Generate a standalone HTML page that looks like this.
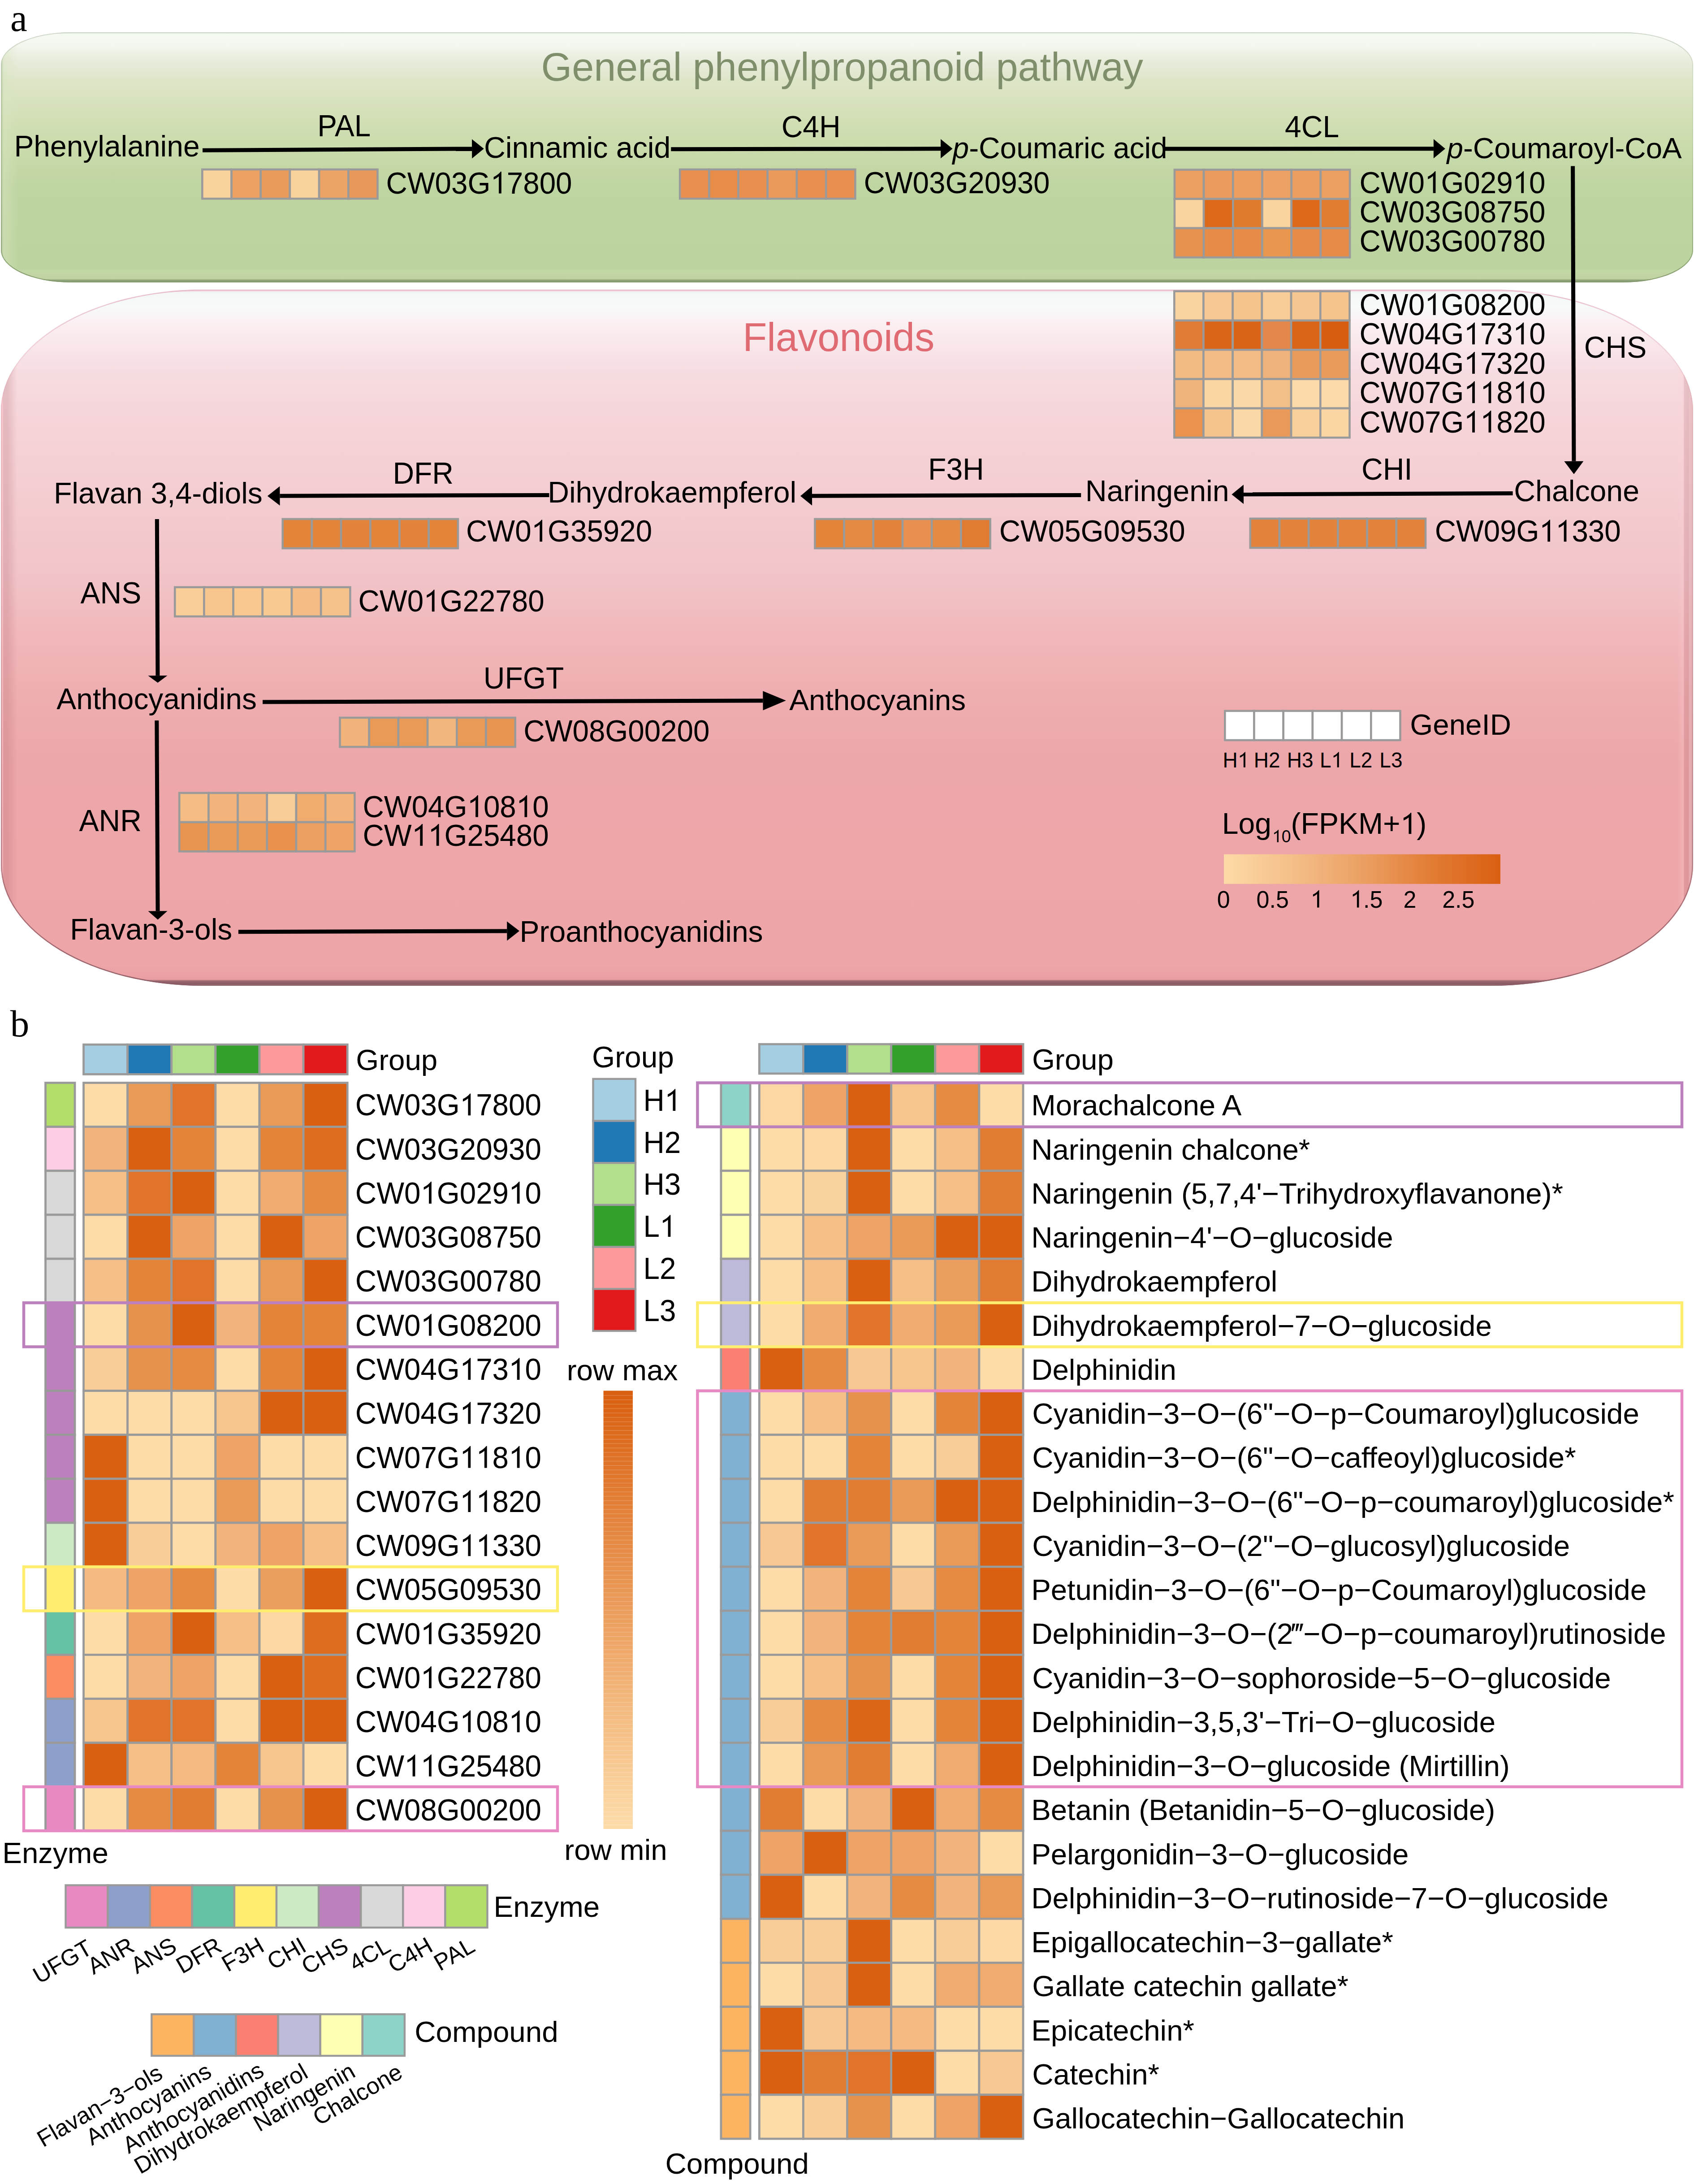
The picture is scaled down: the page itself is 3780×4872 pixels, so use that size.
<!DOCTYPE html>
<html><head><meta charset="utf-8"><style>html,body{margin:0;padding:0;background:#fff;width:3780px;height:4872px;overflow:hidden}</style></head><body>
<svg width="3780" height="4872" viewBox="0 0 3780 4872" style="display:block;font-family:'Liberation Sans',sans-serif">
<defs>
<linearGradient id="gG" x1="0" y1="0" x2="0" y2="1">
<stop offset="0" stop-color="#DCE3D8"/><stop offset="0.007" stop-color="#F4F9F1"/>
<stop offset="0.05" stop-color="#F3F7EF"/><stop offset="0.11" stop-color="#E8EDDD"/>
<stop offset="0.194" stop-color="#DDE5C8"/><stop offset="0.337" stop-color="#D3DFB6"/>
<stop offset="0.48" stop-color="#C8DAAA"/><stop offset="0.62" stop-color="#BED4A1"/>
<stop offset="0.946" stop-color="#BCD39F"/><stop offset="0.955" stop-color="#C3D7A6"/>
<stop offset="0.986" stop-color="#BFD2A2"/><stop offset="0.991" stop-color="#8EA27A"/>
<stop offset="1" stop-color="#8EA27A"/>
</linearGradient>
<linearGradient id="gP" x1="0" y1="0" x2="0" y2="1">
<stop offset="0" stop-color="#EEC3D0"/><stop offset="0.004" stop-color="#F3F7F5"/>
<stop offset="0.025" stop-color="#F6FAF8"/><stop offset="0.045" stop-color="#FBF0F3"/>
<stop offset="0.119" stop-color="#F6DCE0"/><stop offset="0.218" stop-color="#F5D2D6"/>
<stop offset="0.317" stop-color="#F3CBCF"/><stop offset="0.416" stop-color="#F1C3C7"/>
<stop offset="0.49" stop-color="#F1B8BB"/><stop offset="0.588" stop-color="#EEADB0"/>
<stop offset="0.687" stop-color="#EDA6A9"/><stop offset="0.97" stop-color="#EDA5A8"/>
<stop offset="0.991" stop-color="#EA9EA3"/><stop offset="0.993" stop-color="#9A6870"/>
<stop offset="0.997" stop-color="#8A5A62"/><stop offset="1" stop-color="#A88088"/>
</linearGradient>
<linearGradient id="gPL" x1="0" y1="0" x2="1" y2="0">
<stop offset="0" stop-color="#F8C0C8" stop-opacity="0.8"/><stop offset="0.12" stop-color="#F8C0C8" stop-opacity="0.6"/>
<stop offset="0.16" stop-color="#B06870" stop-opacity="0.25"/><stop offset="0.4" stop-color="#B06870" stop-opacity="0.25"/>
<stop offset="1" stop-color="#B06870" stop-opacity="0"/>
</linearGradient>
<linearGradient id="gPR" x1="1" y1="0" x2="0" y2="0">
<stop offset="0" stop-color="#E0B0B4" stop-opacity="0.7"/><stop offset="0.25" stop-color="#E0B0B4" stop-opacity="0.5"/>
<stop offset="0.3" stop-color="#B06870" stop-opacity="0.25"/><stop offset="0.55" stop-color="#B06870" stop-opacity="0.2"/>
<stop offset="0.6" stop-color="#FFD0D8" stop-opacity="0.3"/><stop offset="1" stop-color="#FFD0D8" stop-opacity="0"/>
</linearGradient>
<linearGradient id="gGL" x1="0" y1="0" x2="1" y2="0">
<stop offset="0" stop-color="#9DB089" stop-opacity="0.6"/><stop offset="0.15" stop-color="#D8E5C0" stop-opacity="0.5"/>
<stop offset="0.5" stop-color="#D8E5C0" stop-opacity="0.3"/><stop offset="1" stop-color="#D8E5C0" stop-opacity="0"/>
</linearGradient>
<linearGradient id="gLeg" x1="0" y1="0" x2="1" y2="0">
<stop offset="0" stop-color="#FDDAA6"/><stop offset="0.25" stop-color="#F4BE88"/><stop offset="0.5" stop-color="#EBA063"/>
<stop offset="0.75" stop-color="#E27C35"/><stop offset="1" stop-color="#D95F12"/>
</linearGradient>
<linearGradient id="gRow" x1="0" y1="0" x2="0" y2="1">
<stop offset="0" stop-color="#D95F0E"/><stop offset="0.5" stop-color="#EB9D5C"/><stop offset="1" stop-color="#FDDCA9"/>
</linearGradient>
<linearGradient id="sP" x1="0" y1="0" x2="0" y2="1">
<stop offset="0" stop-color="#E8B8C8" stop-opacity="0.9"/><stop offset="0.1" stop-color="#E0B0BC" stop-opacity="0.3"/>
<stop offset="0.5" stop-color="#B07078" stop-opacity="0.3"/><stop offset="0.85" stop-color="#9A6068" stop-opacity="0.7"/>
<stop offset="1" stop-color="#8A5A62" stop-opacity="0.9"/>
</linearGradient>
<linearGradient id="sG" x1="0" y1="0" x2="0" y2="1">
<stop offset="0" stop-color="#C8D0C4" stop-opacity="0.9"/><stop offset="0.2" stop-color="#B8C8A8" stop-opacity="0.3"/>
<stop offset="0.6" stop-color="#90A878" stop-opacity="0.4"/><stop offset="1" stop-color="#7E9468" stop-opacity="0.9"/>
</linearGradient>
<clipPath id="cP"><rect x="2" y="646" width="3776" height="1553" rx="450" ry="270"/></clipPath>
<clipPath id="cG"><rect x="2" y="72" width="3776" height="558" rx="155" ry="72"/></clipPath>
</defs>
<rect x="0" y="0" width="3780" height="4872" fill="#fff"/>
<text x="22.9" y="69" font-family="Liberation Serif" font-size="85">a</text>
<rect x="2" y="72" width="3776" height="558" rx="155" ry="72" fill="url(#gG)"/>
<g clip-path="url(#cG)"><rect x="2" y="72" width="40" height="558" fill="url(#gGL)"/></g>
<rect x="2" y="646" width="3776" height="1553" rx="450" ry="270" fill="url(#gP)"/>
<g clip-path="url(#cP)"><rect x="2" y="646" width="36" height="1553" fill="url(#gPL)"/><rect x="3742" y="646" width="36" height="1553" fill="url(#gPR)"/></g>
<g clip-path="url(#cP)"><rect x="2" y="646" width="3776" height="1553" rx="450" ry="270" fill="none" stroke="url(#sP)" stroke-width="5"/></g>
<g clip-path="url(#cG)"><rect x="2" y="72" width="3776" height="558" rx="155" ry="72" fill="none" stroke="url(#sG)" stroke-width="4"/></g>
<text x="1207.56" y="180.10" font-size="88.20" fill="#808F6B">General phenylpropanoid pathway</text>
<text x="1657.14" y="782.80" font-size="88.54" fill="#E06A72">Flavonoids</text>
<path d="M452.0,339.8 L1053.1,336.4 L1053.1,327.4 L452.0,330.8 Z" fill="#000"/>
<path d="M1053.2,353.4 L1079.7,331.8 L1053.0,310.4 Z" fill="#000"/>
<path d="M1497.3,337.3 L2099.0,336.3 L2099.0,327.3 L1497.3,328.3 Z" fill="#000"/>
<path d="M2099.0,353.3 L2125.5,331.8 L2099.0,310.3 Z" fill="#000"/>
<path d="M2600.0,336.5 L3198.9,336.3 L3198.9,327.3 L2600.0,327.5 Z" fill="#000"/>
<path d="M3198.9,353.3 L3224.9,331.8 L3198.9,310.3 Z" fill="#000"/>
<path d="M3505.1,370.5 L3507.4,1028.8 L3516.4,1028.8 L3514.1,370.5 Z" fill="#000"/>
<path d="M3490.4,1028.9 L3512.0,1057.8 L3533.4,1028.7 Z" fill="#000"/>
<path d="M3375.6,1095.9 L2775.0,1098.3 L2775.0,1107.3 L3375.6,1104.9 Z" fill="#000"/>
<path d="M2774.9,1081.3 L2748.4,1102.9 L2775.1,1124.3 Z" fill="#000"/>
<path d="M2412.2,1099.9 L1812.0,1101.8 L1812.0,1110.8 L2412.2,1108.9 Z" fill="#000"/>
<path d="M1811.9,1084.8 L1786.0,1106.4 L1812.1,1127.8 Z" fill="#000"/>
<path d="M1225.5,1099.9 L624.4,1101.8 L624.4,1110.8 L1225.5,1108.9 Z" fill="#000"/>
<path d="M624.3,1084.8 L596.8,1106.4 L624.5,1127.8 Z" fill="#000"/>
<path d="M345.8,1158.0 L347.4,1507.1 L356.4,1507.1 L354.8,1158.0 Z" fill="#000"/>
<path d="M330.4,1507.2 L352.0,1523.1 L373.4,1507.0 Z" fill="#000"/>
<path d="M586.1,1570.6 L1702.4,1567.4 L1702.4,1558.4 L586.1,1561.6 Z" fill="#000"/>
<path d="M1702.5,1584.4 L1753.8,1562.8 L1702.3,1541.4 Z" fill="#000"/>
<path d="M345.3,1607.2 L347.5,2032.4 L356.5,2032.4 L354.3,1607.2 Z" fill="#000"/>
<path d="M330.5,2032.5 L352.1,2051.4 L373.5,2032.3 Z" fill="#000"/>
<path d="M531.9,2083.2 L1131.3,2081.4 L1131.3,2072.4 L531.9,2074.2 Z" fill="#000"/>
<path d="M1131.4,2098.4 L1159.0,2076.8 L1131.2,2055.4 Z" fill="#000"/>
<text x="31.39" y="348.80" font-size="65.93" fill="#000">Phenylalanine</text>
<text transform="translate(708.22,304.10) scale(1,1.04)" font-size="65.60" fill="#000">PAL</text>
<rect x="451.3" y="378.0" width="65.2" height="65.2" fill="#FAD29C" stroke="#9A9A9A" stroke-width="4.6"/>
<rect x="516.5" y="378.0" width="65.2" height="65.2" fill="#EBA263" stroke="#9A9A9A" stroke-width="4.6"/>
<rect x="581.7" y="378.0" width="65.2" height="65.2" fill="#E99C5A" stroke="#9A9A9A" stroke-width="4.6"/>
<rect x="646.9" y="378.0" width="65.2" height="65.2" fill="#FAD29C" stroke="#9A9A9A" stroke-width="4.6"/>
<rect x="712.1" y="378.0" width="65.2" height="65.2" fill="#EBA465" stroke="#9A9A9A" stroke-width="4.6"/>
<rect x="777.3" y="378.0" width="65.2" height="65.2" fill="#E8985A" stroke="#9A9A9A" stroke-width="4.6"/>
<text transform="translate(861.47,431.50) scale(1,1.04)" font-size="65.50" fill="#000" style="font-kerning:none">CW03G 7800</text>
<path transform="translate(1094.40,431.50) scale(0.03198,-0.03326)" d="M763,0 L583,0 L583,1147 C540,1106 484,1065 415,1024 C346,983 284,952 223,930 L223,1104 C310,1145 404,1192 506,1269 C608,1346 675,1412 710,1466 L763,1466 Z" fill="#000"/>
<text x="1079.93" y="352.30" font-size="66.34" fill="#000">Cinnamic acid</text>
<text transform="translate(1743.65,305.90) scale(1,1.04)" font-size="66.00" fill="#000">C4H</text>
<rect x="1517.2" y="378.0" width="65.2" height="65.2" fill="#E99050" stroke="#9A9A9A" stroke-width="4.6"/>
<rect x="1582.4" y="378.0" width="65.2" height="65.2" fill="#E88C4A" stroke="#9A9A9A" stroke-width="4.6"/>
<rect x="1647.6" y="378.0" width="65.2" height="65.2" fill="#E98F50" stroke="#9A9A9A" stroke-width="4.6"/>
<rect x="1712.8" y="378.0" width="65.2" height="65.2" fill="#EB9A5A" stroke="#9A9A9A" stroke-width="4.6"/>
<rect x="1778.0" y="378.0" width="65.2" height="65.2" fill="#E99050" stroke="#9A9A9A" stroke-width="4.6"/>
<rect x="1843.2" y="378.0" width="65.2" height="65.2" fill="#E98F4F" stroke="#9A9A9A" stroke-width="4.6"/>
<text transform="translate(1927.47,430.90) scale(1,1.04)" font-size="65.50" fill="#000">CW03G20930</text>
<text x="2125.6" y="352.9" font-size="65.8"><tspan font-style="italic">p</tspan>-Coumaric acid</text>
<text transform="translate(2867.09,306.20) scale(1,1.04)" font-size="66.00" fill="#000">4CL</text>
<text x="3228.6" y="352.9" font-size="65.5"><tspan font-style="italic">p</tspan>-Coumaroyl-CoA</text>
<rect x="2620.9" y="378.6" width="65.2" height="65.2" fill="#EBA062" stroke="#9A9A9A" stroke-width="4.6"/>
<rect x="2686.1" y="378.6" width="65.2" height="65.2" fill="#EA9B5D" stroke="#9A9A9A" stroke-width="4.6"/>
<rect x="2751.3" y="378.6" width="65.2" height="65.2" fill="#EB9E60" stroke="#9A9A9A" stroke-width="4.6"/>
<rect x="2816.5" y="378.6" width="65.2" height="65.2" fill="#ECA264" stroke="#9A9A9A" stroke-width="4.6"/>
<rect x="2881.7" y="378.6" width="65.2" height="65.2" fill="#EB9E60" stroke="#9A9A9A" stroke-width="4.6"/>
<rect x="2946.9" y="378.6" width="65.2" height="65.2" fill="#EBA062" stroke="#9A9A9A" stroke-width="4.6"/>
<rect x="2620.9" y="443.8" width="65.2" height="65.2" fill="#FBD39E" stroke="#9A9A9A" stroke-width="4.6"/>
<rect x="2686.1" y="443.8" width="65.2" height="65.2" fill="#DC6A1A" stroke="#9A9A9A" stroke-width="4.6"/>
<rect x="2751.3" y="443.8" width="65.2" height="65.2" fill="#E07A2C" stroke="#9A9A9A" stroke-width="4.6"/>
<rect x="2816.5" y="443.8" width="65.2" height="65.2" fill="#FBD39E" stroke="#9A9A9A" stroke-width="4.6"/>
<rect x="2881.7" y="443.8" width="65.2" height="65.2" fill="#DC6A1A" stroke="#9A9A9A" stroke-width="4.6"/>
<rect x="2946.9" y="443.8" width="65.2" height="65.2" fill="#E27C30" stroke="#9A9A9A" stroke-width="4.6"/>
<rect x="2620.9" y="509.0" width="65.2" height="65.2" fill="#E8924F" stroke="#9A9A9A" stroke-width="4.6"/>
<rect x="2686.1" y="509.0" width="65.2" height="65.2" fill="#E68C48" stroke="#9A9A9A" stroke-width="4.6"/>
<rect x="2751.3" y="509.0" width="65.2" height="65.2" fill="#E68C48" stroke="#9A9A9A" stroke-width="4.6"/>
<rect x="2816.5" y="509.0" width="65.2" height="65.2" fill="#E9964F" stroke="#9A9A9A" stroke-width="4.6"/>
<rect x="2881.7" y="509.0" width="65.2" height="65.2" fill="#E68C48" stroke="#9A9A9A" stroke-width="4.6"/>
<rect x="2946.9" y="509.0" width="65.2" height="65.2" fill="#E68C48" stroke="#9A9A9A" stroke-width="4.6"/>
<text transform="translate(3033.47,430.70) scale(1,1.04)" font-size="65.50" fill="#000" style="font-kerning:none">CW0 G029 0</text>
<path transform="translate(3179.03,430.70) scale(0.03198,-0.03326)" d="M763,0 L583,0 L583,1147 C540,1106 484,1065 415,1024 C346,983 284,952 223,930 L223,1104 C310,1145 404,1192 506,1269 C608,1346 675,1412 710,1466 L763,1466 Z" fill="#000"/>
<path transform="translate(3375.69,430.70) scale(0.03198,-0.03326)" d="M763,0 L583,0 L583,1147 C540,1106 484,1065 415,1024 C346,983 284,952 223,930 L223,1104 C310,1145 404,1192 506,1269 C608,1346 675,1412 710,1466 L763,1466 Z" fill="#000"/>
<text transform="translate(3033.47,495.90) scale(1,1.04)" font-size="65.50" fill="#000">CW03G08750</text>
<text transform="translate(3033.47,561.40) scale(1,1.04)" font-size="65.50" fill="#000">CW03G00780</text>
<rect x="2620.3" y="649.7" width="65.2" height="65.3" fill="#FAD3A0" stroke="#9A9A9A" stroke-width="4.6"/>
<rect x="2685.5" y="649.7" width="65.2" height="65.3" fill="#F7C893" stroke="#9A9A9A" stroke-width="4.6"/>
<rect x="2750.7" y="649.7" width="65.2" height="65.3" fill="#F5C48C" stroke="#9A9A9A" stroke-width="4.6"/>
<rect x="2815.9" y="649.7" width="65.2" height="65.3" fill="#F8CD98" stroke="#9A9A9A" stroke-width="4.6"/>
<rect x="2881.1" y="649.7" width="65.2" height="65.3" fill="#F6C690" stroke="#9A9A9A" stroke-width="4.6"/>
<rect x="2946.3" y="649.7" width="65.2" height="65.3" fill="#F5C48C" stroke="#9A9A9A" stroke-width="4.6"/>
<rect x="2620.3" y="715.0" width="65.2" height="65.3" fill="#E07B35" stroke="#9A9A9A" stroke-width="4.6"/>
<rect x="2685.5" y="715.0" width="65.2" height="65.3" fill="#DA6418" stroke="#9A9A9A" stroke-width="4.6"/>
<rect x="2750.7" y="715.0" width="65.2" height="65.3" fill="#D96418" stroke="#9A9A9A" stroke-width="4.6"/>
<rect x="2815.9" y="715.0" width="65.2" height="65.3" fill="#E3884A" stroke="#9A9A9A" stroke-width="4.6"/>
<rect x="2881.1" y="715.0" width="65.2" height="65.3" fill="#DA6418" stroke="#9A9A9A" stroke-width="4.6"/>
<rect x="2946.3" y="715.0" width="65.2" height="65.3" fill="#D95D10" stroke="#9A9A9A" stroke-width="4.6"/>
<rect x="2620.3" y="780.3" width="65.2" height="65.3" fill="#F3BB84" stroke="#9A9A9A" stroke-width="4.6"/>
<rect x="2685.5" y="780.3" width="65.2" height="65.3" fill="#F3BC86" stroke="#9A9A9A" stroke-width="4.6"/>
<rect x="2750.7" y="780.3" width="65.2" height="65.3" fill="#F3BC86" stroke="#9A9A9A" stroke-width="4.6"/>
<rect x="2815.9" y="780.3" width="65.2" height="65.3" fill="#F0B27C" stroke="#9A9A9A" stroke-width="4.6"/>
<rect x="2881.1" y="780.3" width="65.2" height="65.3" fill="#E99B5C" stroke="#9A9A9A" stroke-width="4.6"/>
<rect x="2946.3" y="780.3" width="65.2" height="65.3" fill="#E99B5C" stroke="#9A9A9A" stroke-width="4.6"/>
<rect x="2620.3" y="845.6" width="65.2" height="65.3" fill="#F0B27B" stroke="#9A9A9A" stroke-width="4.6"/>
<rect x="2685.5" y="845.6" width="65.2" height="65.3" fill="#FBD6A5" stroke="#9A9A9A" stroke-width="4.6"/>
<rect x="2750.7" y="845.6" width="65.2" height="65.3" fill="#FBD8A8" stroke="#9A9A9A" stroke-width="4.6"/>
<rect x="2815.9" y="845.6" width="65.2" height="65.3" fill="#F3BF88" stroke="#9A9A9A" stroke-width="4.6"/>
<rect x="2881.1" y="845.6" width="65.2" height="65.3" fill="#FCDAA9" stroke="#9A9A9A" stroke-width="4.6"/>
<rect x="2946.3" y="845.6" width="65.2" height="65.3" fill="#FCDAA9" stroke="#9A9A9A" stroke-width="4.6"/>
<rect x="2620.3" y="910.9" width="65.2" height="65.3" fill="#E9934F" stroke="#9A9A9A" stroke-width="4.6"/>
<rect x="2685.5" y="910.9" width="65.2" height="65.3" fill="#F5C48C" stroke="#9A9A9A" stroke-width="4.6"/>
<rect x="2750.7" y="910.9" width="65.2" height="65.3" fill="#FBD8A8" stroke="#9A9A9A" stroke-width="4.6"/>
<rect x="2815.9" y="910.9" width="65.2" height="65.3" fill="#E99A5A" stroke="#9A9A9A" stroke-width="4.6"/>
<rect x="2881.1" y="910.9" width="65.2" height="65.3" fill="#F9CF9B" stroke="#9A9A9A" stroke-width="4.6"/>
<rect x="2946.3" y="910.9" width="65.2" height="65.3" fill="#FBD6A5" stroke="#9A9A9A" stroke-width="4.6"/>
<text transform="translate(3033.57,702.70) scale(1,1.04)" font-size="65.50" fill="#000" style="font-kerning:none">CW0 G08200</text>
<path transform="translate(3179.13,702.70) scale(0.03198,-0.03326)" d="M763,0 L583,0 L583,1147 C540,1106 484,1065 415,1024 C346,983 284,952 223,930 L223,1104 C310,1145 404,1192 506,1269 C608,1346 675,1412 710,1466 L763,1466 Z" fill="#000"/>
<text transform="translate(3033.57,768.20) scale(1,1.04)" font-size="65.50" fill="#000" style="font-kerning:none">CW04G 73 0</text>
<path transform="translate(3266.50,768.20) scale(0.03198,-0.03326)" d="M763,0 L583,0 L583,1147 C540,1106 484,1065 415,1024 C346,983 284,952 223,930 L223,1104 C310,1145 404,1192 506,1269 C608,1346 675,1412 710,1466 L763,1466 Z" fill="#000"/>
<path transform="translate(3375.79,768.20) scale(0.03198,-0.03326)" d="M763,0 L583,0 L583,1147 C540,1106 484,1065 415,1024 C346,983 284,952 223,930 L223,1104 C310,1145 404,1192 506,1269 C608,1346 675,1412 710,1466 L763,1466 Z" fill="#000"/>
<text transform="translate(3033.57,833.70) scale(1,1.04)" font-size="65.50" fill="#000" style="font-kerning:none">CW04G 7320</text>
<path transform="translate(3266.50,833.70) scale(0.03198,-0.03326)" d="M763,0 L583,0 L583,1147 C540,1106 484,1065 415,1024 C346,983 284,952 223,930 L223,1104 C310,1145 404,1192 506,1269 C608,1346 675,1412 710,1466 L763,1466 Z" fill="#000"/>
<text transform="translate(3033.57,899.20) scale(1,1.04)" font-size="65.50" fill="#000" style="font-kerning:none">CW07G  8 0</text>
<path transform="translate(3266.50,899.20) scale(0.03198,-0.03326)" d="M763,0 L583,0 L583,1147 C540,1106 484,1065 415,1024 C346,983 284,952 223,930 L223,1104 C310,1145 404,1192 506,1269 C608,1346 675,1412 710,1466 L763,1466 Z" fill="#000"/>
<path transform="translate(3302.93,899.20) scale(0.03198,-0.03326)" d="M763,0 L583,0 L583,1147 C540,1106 484,1065 415,1024 C346,983 284,952 223,930 L223,1104 C310,1145 404,1192 506,1269 C608,1346 675,1412 710,1466 L763,1466 Z" fill="#000"/>
<path transform="translate(3375.79,899.20) scale(0.03198,-0.03326)" d="M763,0 L583,0 L583,1147 C540,1106 484,1065 415,1024 C346,983 284,952 223,930 L223,1104 C310,1145 404,1192 506,1269 C608,1346 675,1412 710,1466 L763,1466 Z" fill="#000"/>
<text transform="translate(3033.57,964.70) scale(1,1.04)" font-size="65.50" fill="#000" style="font-kerning:none">CW07G  820</text>
<path transform="translate(3266.50,964.70) scale(0.03198,-0.03326)" d="M763,0 L583,0 L583,1147 C540,1106 484,1065 415,1024 C346,983 284,952 223,930 L223,1104 C310,1145 404,1192 506,1269 C608,1346 675,1412 710,1466 L763,1466 Z" fill="#000"/>
<path transform="translate(3302.93,964.70) scale(0.03198,-0.03326)" d="M763,0 L583,0 L583,1147 C540,1106 484,1065 415,1024 C346,983 284,952 223,930 L223,1104 C310,1145 404,1192 506,1269 C608,1346 675,1412 710,1466 L763,1466 Z" fill="#000"/>
<text transform="translate(3534.85,798.10) scale(1,1.04)" font-size="66.00" fill="#000">CHS</text>
<text transform="translate(3038.05,1070.30) scale(1,1.04)" font-size="66.00" fill="#000">CHI</text>
<text x="3378.24" y="1117.90" font-size="66.22" fill="#000">Chalcone</text>
<rect x="2789.8" y="1156.9" width="65.2" height="65.2" fill="#E3823A" stroke="#9A9A9A" stroke-width="4.6"/>
<rect x="2855.0" y="1156.9" width="65.2" height="65.2" fill="#E3833B" stroke="#9A9A9A" stroke-width="4.6"/>
<rect x="2920.2" y="1156.9" width="65.2" height="65.2" fill="#E3823A" stroke="#9A9A9A" stroke-width="4.6"/>
<rect x="2985.4" y="1156.9" width="65.2" height="65.2" fill="#E3843C" stroke="#9A9A9A" stroke-width="4.6"/>
<rect x="3050.6" y="1156.9" width="65.2" height="65.2" fill="#E3823A" stroke="#9A9A9A" stroke-width="4.6"/>
<rect x="3115.8" y="1156.9" width="65.2" height="65.2" fill="#E3833B" stroke="#9A9A9A" stroke-width="4.6"/>
<text transform="translate(3201.67,1208.20) scale(1,1.04)" font-size="65.50" fill="#000" style="font-kerning:none">CW09G  330</text>
<path transform="translate(3434.60,1208.20) scale(0.03198,-0.03326)" d="M763,0 L583,0 L583,1147 C540,1106 484,1065 415,1024 C346,983 284,952 223,930 L223,1104 C310,1145 404,1192 506,1269 C608,1346 675,1412 710,1466 L763,1466 Z" fill="#000"/>
<path transform="translate(3471.03,1208.20) scale(0.03198,-0.03326)" d="M763,0 L583,0 L583,1147 C540,1106 484,1065 415,1024 C346,983 284,952 223,930 L223,1104 C310,1145 404,1192 506,1269 C608,1346 675,1412 710,1466 L763,1466 Z" fill="#000"/>
<text transform="translate(2071.09,1070.30) scale(1,1.04)" font-size="66.00" fill="#000">F3H</text>
<text x="2421.76" y="1117.90" font-size="66.36" fill="#000">Naringenin</text>
<rect x="1818.4" y="1157.9" width="65.2" height="65.2" fill="#E3843B" stroke="#9A9A9A" stroke-width="4.6"/>
<rect x="1883.6" y="1157.9" width="65.2" height="65.2" fill="#E58A42" stroke="#9A9A9A" stroke-width="4.6"/>
<rect x="1948.8" y="1157.9" width="65.2" height="65.2" fill="#E3823A" stroke="#9A9A9A" stroke-width="4.6"/>
<rect x="2014.0" y="1157.9" width="65.2" height="65.2" fill="#E98F4F" stroke="#9A9A9A" stroke-width="4.6"/>
<rect x="2079.2" y="1157.9" width="65.2" height="65.2" fill="#E58A42" stroke="#9A9A9A" stroke-width="4.6"/>
<rect x="2144.4" y="1157.9" width="65.2" height="65.2" fill="#E27B32" stroke="#9A9A9A" stroke-width="4.6"/>
<text transform="translate(2229.67,1208.20) scale(1,1.04)" font-size="65.50" fill="#000">CW05G09530</text>
<text x="1222.17" y="1120.60" font-size="66.15" fill="#000">Dihydrokaempferol</text>
<text transform="translate(876.39,1079.30) scale(1,1.04)" font-size="66.00" fill="#000">DFR</text>
<rect x="630.7" y="1157.9" width="65.2" height="65.2" fill="#E3843B" stroke="#9A9A9A" stroke-width="4.6"/>
<rect x="695.9" y="1157.9" width="65.2" height="65.2" fill="#E3843B" stroke="#9A9A9A" stroke-width="4.6"/>
<rect x="761.1" y="1157.9" width="65.2" height="65.2" fill="#E3833B" stroke="#9A9A9A" stroke-width="4.6"/>
<rect x="826.3" y="1157.9" width="65.2" height="65.2" fill="#E3843B" stroke="#9A9A9A" stroke-width="4.6"/>
<rect x="891.5" y="1157.9" width="65.2" height="65.2" fill="#E3833B" stroke="#9A9A9A" stroke-width="4.6"/>
<rect x="956.7" y="1157.9" width="65.2" height="65.2" fill="#E3843B" stroke="#9A9A9A" stroke-width="4.6"/>
<text transform="translate(1040.07,1208.20) scale(1,1.04)" font-size="65.50" fill="#000" style="font-kerning:none">CW0 G35920</text>
<path transform="translate(1185.63,1208.20) scale(0.03198,-0.03326)" d="M763,0 L583,0 L583,1147 C540,1106 484,1065 415,1024 C346,983 284,952 223,930 L223,1104 C310,1145 404,1192 506,1269 C608,1346 675,1412 710,1466 L763,1466 Z" fill="#000"/>
<text x="119.98" y="1122.90" font-size="66.01" fill="#000">Flavan 3,4-diols</text>
<text transform="translate(179.47,1346.30) scale(1,1.04)" font-size="66.00" fill="#000">ANS</text>
<rect x="390.2" y="1309.9" width="65.2" height="65.2" fill="#F9CE98" stroke="#9A9A9A" stroke-width="4.6"/>
<rect x="455.4" y="1309.9" width="65.2" height="65.2" fill="#F7C58E" stroke="#9A9A9A" stroke-width="4.6"/>
<rect x="520.6" y="1309.9" width="65.2" height="65.2" fill="#F8C890" stroke="#9A9A9A" stroke-width="4.6"/>
<rect x="585.8" y="1309.9" width="65.2" height="65.2" fill="#F8CA92" stroke="#9A9A9A" stroke-width="4.6"/>
<rect x="651.0" y="1309.9" width="65.2" height="65.2" fill="#F5BD85" stroke="#9A9A9A" stroke-width="4.6"/>
<rect x="716.2" y="1309.9" width="65.2" height="65.2" fill="#F6C28B" stroke="#9A9A9A" stroke-width="4.6"/>
<text transform="translate(799.57,1364.30) scale(1,1.04)" font-size="65.50" fill="#000" style="font-kerning:none">CW0 G22780</text>
<path transform="translate(945.13,1364.30) scale(0.03198,-0.03326)" d="M763,0 L583,0 L583,1147 C540,1106 484,1065 415,1024 C346,983 284,952 223,930 L223,1104 C310,1145 404,1192 506,1269 C608,1346 675,1412 710,1466 L763,1466 Z" fill="#000"/>
<text x="126.37" y="1582.10" font-size="65.83" fill="#000">Anthocyanidins</text>
<text transform="translate(1078.81,1536.00) scale(1,1.04)" font-size="66.00" fill="#000">UFGT</text>
<rect x="758.5" y="1601.0" width="65.2" height="65.2" fill="#F2B37A" stroke="#9A9A9A" stroke-width="4.6"/>
<rect x="823.7" y="1601.0" width="65.2" height="65.2" fill="#E99A57" stroke="#9A9A9A" stroke-width="4.6"/>
<rect x="888.9" y="1601.0" width="65.2" height="65.2" fill="#E99A57" stroke="#9A9A9A" stroke-width="4.6"/>
<rect x="954.1" y="1601.0" width="65.2" height="65.2" fill="#F2B57C" stroke="#9A9A9A" stroke-width="4.6"/>
<rect x="1019.3" y="1601.0" width="65.2" height="65.2" fill="#E99A57" stroke="#9A9A9A" stroke-width="4.6"/>
<rect x="1084.5" y="1601.0" width="65.2" height="65.2" fill="#E99552" stroke="#9A9A9A" stroke-width="4.6"/>
<text transform="translate(1168.37,1653.90) scale(1,1.04)" font-size="65.50" fill="#000">CW08G00200</text>
<text x="1761.17" y="1584.40" font-size="65.61" fill="#000">Anthocyanins</text>
<text transform="translate(176.47,1854.40) scale(1,1.04)" font-size="66.00" fill="#000">ANR</text>
<rect x="400.2" y="1768.9" width="65.2" height="65.2" fill="#F5BD85" stroke="#9A9A9A" stroke-width="4.6"/>
<rect x="465.4" y="1768.9" width="65.2" height="65.2" fill="#F2B47A" stroke="#9A9A9A" stroke-width="4.6"/>
<rect x="530.6" y="1768.9" width="65.2" height="65.2" fill="#F2B47A" stroke="#9A9A9A" stroke-width="4.6"/>
<rect x="595.8" y="1768.9" width="65.2" height="65.2" fill="#F9CD98" stroke="#9A9A9A" stroke-width="4.6"/>
<rect x="661.0" y="1768.9" width="65.2" height="65.2" fill="#F0AB6F" stroke="#9A9A9A" stroke-width="4.6"/>
<rect x="726.2" y="1768.9" width="65.2" height="65.2" fill="#F2B47A" stroke="#9A9A9A" stroke-width="4.6"/>
<rect x="400.2" y="1834.1" width="65.2" height="65.2" fill="#E99552" stroke="#9A9A9A" stroke-width="4.6"/>
<rect x="465.4" y="1834.1" width="65.2" height="65.2" fill="#E99A57" stroke="#9A9A9A" stroke-width="4.6"/>
<rect x="530.6" y="1834.1" width="65.2" height="65.2" fill="#E99A57" stroke="#9A9A9A" stroke-width="4.6"/>
<rect x="595.8" y="1834.1" width="65.2" height="65.2" fill="#E8924E" stroke="#9A9A9A" stroke-width="4.6"/>
<rect x="661.0" y="1834.1" width="65.2" height="65.2" fill="#EBA062" stroke="#9A9A9A" stroke-width="4.6"/>
<rect x="726.2" y="1834.1" width="65.2" height="65.2" fill="#EDA466" stroke="#9A9A9A" stroke-width="4.6"/>
<text transform="translate(809.57,1822.80) scale(1,1.04)" font-size="65.50" fill="#000" style="font-kerning:none">CW04G 08 0</text>
<path transform="translate(1042.50,1822.80) scale(0.03198,-0.03326)" d="M763,0 L583,0 L583,1147 C540,1106 484,1065 415,1024 C346,983 284,952 223,930 L223,1104 C310,1145 404,1192 506,1269 C608,1346 675,1412 710,1466 L763,1466 Z" fill="#000"/>
<path transform="translate(1151.79,1822.80) scale(0.03198,-0.03326)" d="M763,0 L583,0 L583,1147 C540,1106 484,1065 415,1024 C346,983 284,952 223,930 L223,1104 C310,1145 404,1192 506,1269 C608,1346 675,1412 710,1466 L763,1466 Z" fill="#000"/>
<text transform="translate(809.57,1886.80) scale(1,1.04)" font-size="65.50" fill="#000" style="font-kerning:none">CW  G25480</text>
<path transform="translate(918.70,1886.80) scale(0.03198,-0.03326)" d="M763,0 L583,0 L583,1147 C540,1106 484,1065 415,1024 C346,983 284,952 223,930 L223,1104 C310,1145 404,1192 506,1269 C608,1346 675,1412 710,1466 L763,1466 Z" fill="#000"/>
<path transform="translate(955.13,1886.80) scale(0.03198,-0.03326)" d="M763,0 L583,0 L583,1147 C540,1106 484,1065 415,1024 C346,983 284,952 223,930 L223,1104 C310,1145 404,1192 506,1269 C608,1346 675,1412 710,1466 L763,1466 Z" fill="#000"/>
<text x="156.20" y="2096.30" font-size="65.81" fill="#000">Flavan-3-ols</text>
<text x="1159.48" y="2101.10" font-size="66.03" fill="#000">Proanthocyanidins</text>
<rect x="2733.3" y="1585.9" width="65.2" height="65.2" fill="#FFFFFF" stroke="#9A9A9A" stroke-width="4.6"/>
<rect x="2798.5" y="1585.9" width="65.2" height="65.2" fill="#FFFFFF" stroke="#9A9A9A" stroke-width="4.6"/>
<rect x="2863.7" y="1585.9" width="65.2" height="65.2" fill="#FFFFFF" stroke="#9A9A9A" stroke-width="4.6"/>
<rect x="2928.9" y="1585.9" width="65.2" height="65.2" fill="#FFFFFF" stroke="#9A9A9A" stroke-width="4.6"/>
<rect x="2994.1" y="1585.9" width="65.2" height="65.2" fill="#FFFFFF" stroke="#9A9A9A" stroke-width="4.6"/>
<rect x="3059.3" y="1585.9" width="65.2" height="65.2" fill="#FFFFFF" stroke="#9A9A9A" stroke-width="4.6"/>
<text x="3146.31" y="1639.30" font-size="65.50" fill="#000">GeneID</text>
<text transform="translate(2728.53,1711.80) scale(1,1.04)" font-size="46.00" fill="#000" style="font-kerning:none">H </text>
<path transform="translate(2761.75,1711.80) scale(0.02246,-0.02336)" d="M763,0 L583,0 L583,1147 C540,1106 484,1065 415,1024 C346,983 284,952 223,930 L223,1104 C310,1145 404,1192 506,1269 C608,1346 675,1412 710,1466 L763,1466 Z" fill="#000"/>
<text transform="translate(2797.83,1711.80) scale(1,1.04)" font-size="46.00" fill="#000">H2</text>
<text transform="translate(2871.83,1711.80) scale(1,1.04)" font-size="46.00" fill="#000">H3</text>
<text transform="translate(2945.03,1711.80) scale(1,1.04)" font-size="46.00" fill="#000" style="font-kerning:none">L </text>
<path transform="translate(2970.61,1711.80) scale(0.02246,-0.02336)" d="M763,0 L583,0 L583,1147 C540,1106 484,1065 415,1024 C346,983 284,952 223,930 L223,1104 C310,1145 404,1192 506,1269 C608,1346 675,1412 710,1466 L763,1466 Z" fill="#000"/>
<text transform="translate(3011.23,1711.80) scale(1,1.04)" font-size="46.00" fill="#000">L2</text>
<text transform="translate(3078.33,1711.80) scale(1,1.04)" font-size="46.00" fill="#000">L3</text>
<text x="2726.79" y="1860.20" font-size="66.00" fill="#000">Log</text>
<text transform="translate(2838.99,1878.80) scale(1,1.04)" font-size="37.40" fill="#000" style="font-kerning:none"> 0</text>
<path transform="translate(2838.99,1878.80) scale(0.01826,-0.01899)" d="M763,0 L583,0 L583,1147 C540,1106 484,1065 415,1024 C346,983 284,952 223,930 L223,1104 C310,1145 404,1192 506,1269 C608,1346 675,1412 710,1466 L763,1466 Z" fill="#000"/>
<text transform="translate(2880.60,1860.20) scale(1,1.0)" font-size="66.05" fill="#000" style="font-kerning:none">(FPKM+ )</text>
<path transform="translate(3124.66,1860.20) scale(0.03225,-0.03225)" d="M763,0 L583,0 L583,1147 C540,1106 484,1065 415,1024 C346,983 284,952 223,930 L223,1104 C310,1145 404,1192 506,1269 C608,1346 675,1412 710,1466 L763,1466 Z" fill="#000"/>
<rect x="2731" y="1905.7" width="616.9" height="66.1" fill="url(#gLeg)"/>
<text transform="translate(2715.74,2024.50) scale(1,1.04)" font-size="52.00" fill="#000">0</text>
<text transform="translate(2803.56,2024.50) scale(1,1.04)" font-size="52.00" fill="#000">0.5</text>
<text transform="translate(2924.24,2024.50) scale(1,1.04)" font-size="52.00" fill="#000" style="font-kerning:none"> </text>
<path transform="translate(2924.24,2024.50) scale(0.02539,-0.02641)" d="M763,0 L583,0 L583,1147 C540,1106 484,1065 415,1024 C346,983 284,952 223,930 L223,1104 C310,1145 404,1192 506,1269 C608,1346 675,1412 710,1466 L763,1466 Z" fill="#000"/>
<text transform="translate(3013.06,2024.50) scale(1,1.04)" font-size="52.00" fill="#000" style="font-kerning:none"> .5</text>
<path transform="translate(3013.06,2024.50) scale(0.02539,-0.02641)" d="M763,0 L583,0 L583,1147 C540,1106 484,1065 415,1024 C346,983 284,952 223,930 L223,1104 C310,1145 404,1192 506,1269 C608,1346 675,1412 710,1466 L763,1466 Z" fill="#000"/>
<text transform="translate(3131.44,2024.50) scale(1,1.04)" font-size="52.00" fill="#000">2</text>
<text transform="translate(3218.16,2024.50) scale(1,1.04)" font-size="52.00" fill="#000">2.5</text>
<text x="22.7" y="2312" font-family="Liberation Serif" font-size="85">b</text>
<rect x="186.50" y="2330.20" width="98.12" height="66.20" fill="#A6CEE3" stroke="#9A9A9A" stroke-width="4.8"/>
<rect x="284.62" y="2330.20" width="98.12" height="66.20" fill="#1F78B4" stroke="#9A9A9A" stroke-width="4.8"/>
<rect x="382.74" y="2330.20" width="98.12" height="66.20" fill="#B2DF8A" stroke="#9A9A9A" stroke-width="4.8"/>
<rect x="480.86" y="2330.20" width="98.12" height="66.20" fill="#33A02C" stroke="#9A9A9A" stroke-width="4.8"/>
<rect x="578.98" y="2330.20" width="98.12" height="66.20" fill="#FB9A99" stroke="#9A9A9A" stroke-width="4.8"/>
<rect x="677.10" y="2330.20" width="98.12" height="66.20" fill="#E31A1C" stroke="#9A9A9A" stroke-width="4.8"/>
<text x="794.21" y="2386.90" font-size="65.50" fill="#000">Group</text>
<rect x="101.50" y="2415.50" width="65.50" height="98.15" fill="#B3DE69" stroke="#9A9A9A" stroke-width="4.8"/>
<rect x="186.50" y="2415.50" width="98.12" height="98.15" fill="#fddcaa" stroke="#9A9A9A" stroke-width="4.8"/>
<rect x="284.62" y="2415.50" width="98.12" height="98.15" fill="#e99a57" stroke="#9A9A9A" stroke-width="4.8"/>
<rect x="382.74" y="2415.50" width="98.12" height="98.15" fill="#e0742a" stroke="#9A9A9A" stroke-width="4.8"/>
<rect x="480.86" y="2415.50" width="98.12" height="98.15" fill="#fddcaa" stroke="#9A9A9A" stroke-width="4.8"/>
<rect x="578.98" y="2415.50" width="98.12" height="98.15" fill="#e99a57" stroke="#9A9A9A" stroke-width="4.8"/>
<rect x="677.10" y="2415.50" width="98.12" height="98.15" fill="#da5f10" stroke="#9A9A9A" stroke-width="4.8"/>
<text transform="translate(792.87,2488.30) scale(1,1.04)" font-size="65.50" fill="#000" style="font-kerning:none">CW03G 7800</text>
<path transform="translate(1025.80,2488.30) scale(0.03198,-0.03326)" d="M763,0 L583,0 L583,1147 C540,1106 484,1065 415,1024 C346,983 284,952 223,930 L223,1104 C310,1145 404,1192 506,1269 C608,1346 675,1412 710,1466 L763,1466 Z" fill="#000"/>
<rect x="101.50" y="2513.65" width="65.50" height="98.15" fill="#FCCDE5" stroke="#9A9A9A" stroke-width="4.8"/>
<rect x="186.50" y="2513.65" width="98.12" height="98.15" fill="#f2b47a" stroke="#9A9A9A" stroke-width="4.8"/>
<rect x="284.62" y="2513.65" width="98.12" height="98.15" fill="#da5f10" stroke="#9A9A9A" stroke-width="4.8"/>
<rect x="382.74" y="2513.65" width="98.12" height="98.15" fill="#e4843a" stroke="#9A9A9A" stroke-width="4.8"/>
<rect x="480.86" y="2513.65" width="98.12" height="98.15" fill="#fddcaa" stroke="#9A9A9A" stroke-width="4.8"/>
<rect x="578.98" y="2513.65" width="98.12" height="98.15" fill="#e4843a" stroke="#9A9A9A" stroke-width="4.8"/>
<rect x="677.10" y="2513.65" width="98.12" height="98.15" fill="#de6d20" stroke="#9A9A9A" stroke-width="4.8"/>
<text transform="translate(792.87,2586.59) scale(1,1.04)" font-size="65.50" fill="#000">CW03G20930</text>
<rect x="101.50" y="2611.80" width="65.50" height="98.15" fill="#D9D9D9" stroke="#9A9A9A" stroke-width="4.8"/>
<rect x="186.50" y="2611.80" width="98.12" height="98.15" fill="#f5bf88" stroke="#9A9A9A" stroke-width="4.8"/>
<rect x="284.62" y="2611.80" width="98.12" height="98.15" fill="#e0742a" stroke="#9A9A9A" stroke-width="4.8"/>
<rect x="382.74" y="2611.80" width="98.12" height="98.15" fill="#da5f10" stroke="#9A9A9A" stroke-width="4.8"/>
<rect x="480.86" y="2611.80" width="98.12" height="98.15" fill="#fddcaa" stroke="#9A9A9A" stroke-width="4.8"/>
<rect x="578.98" y="2611.80" width="98.12" height="98.15" fill="#f0ac70" stroke="#9A9A9A" stroke-width="4.8"/>
<rect x="677.10" y="2611.80" width="98.12" height="98.15" fill="#e58b42" stroke="#9A9A9A" stroke-width="4.8"/>
<text transform="translate(792.87,2684.88) scale(1,1.04)" font-size="65.50" fill="#000" style="font-kerning:none">CW0 G029 0</text>
<path transform="translate(938.43,2684.88) scale(0.03198,-0.03326)" d="M763,0 L583,0 L583,1147 C540,1106 484,1065 415,1024 C346,983 284,952 223,930 L223,1104 C310,1145 404,1192 506,1269 C608,1346 675,1412 710,1466 L763,1466 Z" fill="#000"/>
<path transform="translate(1135.09,2684.88) scale(0.03198,-0.03326)" d="M763,0 L583,0 L583,1147 C540,1106 484,1065 415,1024 C346,983 284,952 223,930 L223,1104 C310,1145 404,1192 506,1269 C608,1346 675,1412 710,1466 L763,1466 Z" fill="#000"/>
<rect x="101.50" y="2709.95" width="65.50" height="98.15" fill="#D9D9D9" stroke="#9A9A9A" stroke-width="4.8"/>
<rect x="186.50" y="2709.95" width="98.12" height="98.15" fill="#fddcaa" stroke="#9A9A9A" stroke-width="4.8"/>
<rect x="284.62" y="2709.95" width="98.12" height="98.15" fill="#da5f10" stroke="#9A9A9A" stroke-width="4.8"/>
<rect x="382.74" y="2709.95" width="98.12" height="98.15" fill="#eda466" stroke="#9A9A9A" stroke-width="4.8"/>
<rect x="480.86" y="2709.95" width="98.12" height="98.15" fill="#fddcaa" stroke="#9A9A9A" stroke-width="4.8"/>
<rect x="578.98" y="2709.95" width="98.12" height="98.15" fill="#da5f10" stroke="#9A9A9A" stroke-width="4.8"/>
<rect x="677.10" y="2709.95" width="98.12" height="98.15" fill="#eda466" stroke="#9A9A9A" stroke-width="4.8"/>
<text transform="translate(792.87,2783.17) scale(1,1.04)" font-size="65.50" fill="#000">CW03G08750</text>
<rect x="101.50" y="2808.10" width="65.50" height="98.15" fill="#D9D9D9" stroke="#9A9A9A" stroke-width="4.8"/>
<rect x="186.50" y="2808.10" width="98.12" height="98.15" fill="#f5bf88" stroke="#9A9A9A" stroke-width="4.8"/>
<rect x="284.62" y="2808.10" width="98.12" height="98.15" fill="#e4843a" stroke="#9A9A9A" stroke-width="4.8"/>
<rect x="382.74" y="2808.10" width="98.12" height="98.15" fill="#e0742a" stroke="#9A9A9A" stroke-width="4.8"/>
<rect x="480.86" y="2808.10" width="98.12" height="98.15" fill="#fddcaa" stroke="#9A9A9A" stroke-width="4.8"/>
<rect x="578.98" y="2808.10" width="98.12" height="98.15" fill="#e99a57" stroke="#9A9A9A" stroke-width="4.8"/>
<rect x="677.10" y="2808.10" width="98.12" height="98.15" fill="#da5f10" stroke="#9A9A9A" stroke-width="4.8"/>
<text transform="translate(792.87,2881.46) scale(1,1.04)" font-size="65.50" fill="#000">CW03G00780</text>
<rect x="101.50" y="2906.25" width="65.50" height="98.15" fill="#BC80BD" stroke="#9A9A9A" stroke-width="4.8"/>
<rect x="186.50" y="2906.25" width="98.12" height="98.15" fill="#fddcaa" stroke="#9A9A9A" stroke-width="4.8"/>
<rect x="284.62" y="2906.25" width="98.12" height="98.15" fill="#e7924c" stroke="#9A9A9A" stroke-width="4.8"/>
<rect x="382.74" y="2906.25" width="98.12" height="98.15" fill="#da5f10" stroke="#9A9A9A" stroke-width="4.8"/>
<rect x="480.86" y="2906.25" width="98.12" height="98.15" fill="#f2b47a" stroke="#9A9A9A" stroke-width="4.8"/>
<rect x="578.98" y="2906.25" width="98.12" height="98.15" fill="#e4843a" stroke="#9A9A9A" stroke-width="4.8"/>
<rect x="677.10" y="2906.25" width="98.12" height="98.15" fill="#e4843a" stroke="#9A9A9A" stroke-width="4.8"/>
<text transform="translate(792.87,2979.75) scale(1,1.04)" font-size="65.50" fill="#000" style="font-kerning:none">CW0 G08200</text>
<path transform="translate(938.43,2979.75) scale(0.03198,-0.03326)" d="M763,0 L583,0 L583,1147 C540,1106 484,1065 415,1024 C346,983 284,952 223,930 L223,1104 C310,1145 404,1192 506,1269 C608,1346 675,1412 710,1466 L763,1466 Z" fill="#000"/>
<rect x="101.50" y="3004.40" width="65.50" height="98.15" fill="#BC80BD" stroke="#9A9A9A" stroke-width="4.8"/>
<rect x="186.50" y="3004.40" width="98.12" height="98.15" fill="#f9cd98" stroke="#9A9A9A" stroke-width="4.8"/>
<rect x="284.62" y="3004.40" width="98.12" height="98.15" fill="#e7924c" stroke="#9A9A9A" stroke-width="4.8"/>
<rect x="382.74" y="3004.40" width="98.12" height="98.15" fill="#e58b42" stroke="#9A9A9A" stroke-width="4.8"/>
<rect x="480.86" y="3004.40" width="98.12" height="98.15" fill="#fddcaa" stroke="#9A9A9A" stroke-width="4.8"/>
<rect x="578.98" y="3004.40" width="98.12" height="98.15" fill="#e4843a" stroke="#9A9A9A" stroke-width="4.8"/>
<rect x="677.10" y="3004.40" width="98.12" height="98.15" fill="#da5f10" stroke="#9A9A9A" stroke-width="4.8"/>
<text transform="translate(792.87,3078.04) scale(1,1.04)" font-size="65.50" fill="#000" style="font-kerning:none">CW04G 73 0</text>
<path transform="translate(1025.80,3078.04) scale(0.03198,-0.03326)" d="M763,0 L583,0 L583,1147 C540,1106 484,1065 415,1024 C346,983 284,952 223,930 L223,1104 C310,1145 404,1192 506,1269 C608,1346 675,1412 710,1466 L763,1466 Z" fill="#000"/>
<path transform="translate(1135.09,3078.04) scale(0.03198,-0.03326)" d="M763,0 L583,0 L583,1147 C540,1106 484,1065 415,1024 C346,983 284,952 223,930 L223,1104 C310,1145 404,1192 506,1269 C608,1346 675,1412 710,1466 L763,1466 Z" fill="#000"/>
<rect x="101.50" y="3102.55" width="65.50" height="98.15" fill="#BC80BD" stroke="#9A9A9A" stroke-width="4.8"/>
<rect x="186.50" y="3102.55" width="98.12" height="98.15" fill="#fddcaa" stroke="#9A9A9A" stroke-width="4.8"/>
<rect x="284.62" y="3102.55" width="98.12" height="98.15" fill="#fddcaa" stroke="#9A9A9A" stroke-width="4.8"/>
<rect x="382.74" y="3102.55" width="98.12" height="98.15" fill="#fddcaa" stroke="#9A9A9A" stroke-width="4.8"/>
<rect x="480.86" y="3102.55" width="98.12" height="98.15" fill="#f6c48d" stroke="#9A9A9A" stroke-width="4.8"/>
<rect x="578.98" y="3102.55" width="98.12" height="98.15" fill="#da5f10" stroke="#9A9A9A" stroke-width="4.8"/>
<rect x="677.10" y="3102.55" width="98.12" height="98.15" fill="#da5f10" stroke="#9A9A9A" stroke-width="4.8"/>
<text transform="translate(792.87,3176.33) scale(1,1.04)" font-size="65.50" fill="#000" style="font-kerning:none">CW04G 7320</text>
<path transform="translate(1025.80,3176.33) scale(0.03198,-0.03326)" d="M763,0 L583,0 L583,1147 C540,1106 484,1065 415,1024 C346,983 284,952 223,930 L223,1104 C310,1145 404,1192 506,1269 C608,1346 675,1412 710,1466 L763,1466 Z" fill="#000"/>
<rect x="101.50" y="3200.70" width="65.50" height="98.15" fill="#BC80BD" stroke="#9A9A9A" stroke-width="4.8"/>
<rect x="186.50" y="3200.70" width="98.12" height="98.15" fill="#da5f10" stroke="#9A9A9A" stroke-width="4.8"/>
<rect x="284.62" y="3200.70" width="98.12" height="98.15" fill="#fddcaa" stroke="#9A9A9A" stroke-width="4.8"/>
<rect x="382.74" y="3200.70" width="98.12" height="98.15" fill="#fddcaa" stroke="#9A9A9A" stroke-width="4.8"/>
<rect x="480.86" y="3200.70" width="98.12" height="98.15" fill="#eda466" stroke="#9A9A9A" stroke-width="4.8"/>
<rect x="578.98" y="3200.70" width="98.12" height="98.15" fill="#fddcaa" stroke="#9A9A9A" stroke-width="4.8"/>
<rect x="677.10" y="3200.70" width="98.12" height="98.15" fill="#fddcaa" stroke="#9A9A9A" stroke-width="4.8"/>
<text transform="translate(792.87,3274.62) scale(1,1.04)" font-size="65.50" fill="#000" style="font-kerning:none">CW07G  8 0</text>
<path transform="translate(1025.80,3274.62) scale(0.03198,-0.03326)" d="M763,0 L583,0 L583,1147 C540,1106 484,1065 415,1024 C346,983 284,952 223,930 L223,1104 C310,1145 404,1192 506,1269 C608,1346 675,1412 710,1466 L763,1466 Z" fill="#000"/>
<path transform="translate(1062.23,3274.62) scale(0.03198,-0.03326)" d="M763,0 L583,0 L583,1147 C540,1106 484,1065 415,1024 C346,983 284,952 223,930 L223,1104 C310,1145 404,1192 506,1269 C608,1346 675,1412 710,1466 L763,1466 Z" fill="#000"/>
<path transform="translate(1135.09,3274.62) scale(0.03198,-0.03326)" d="M763,0 L583,0 L583,1147 C540,1106 484,1065 415,1024 C346,983 284,952 223,930 L223,1104 C310,1145 404,1192 506,1269 C608,1346 675,1412 710,1466 L763,1466 Z" fill="#000"/>
<rect x="101.50" y="3298.85" width="65.50" height="98.15" fill="#BC80BD" stroke="#9A9A9A" stroke-width="4.8"/>
<rect x="186.50" y="3298.85" width="98.12" height="98.15" fill="#da5f10" stroke="#9A9A9A" stroke-width="4.8"/>
<rect x="284.62" y="3298.85" width="98.12" height="98.15" fill="#fddcaa" stroke="#9A9A9A" stroke-width="4.8"/>
<rect x="382.74" y="3298.85" width="98.12" height="98.15" fill="#fddcaa" stroke="#9A9A9A" stroke-width="4.8"/>
<rect x="480.86" y="3298.85" width="98.12" height="98.15" fill="#e99a57" stroke="#9A9A9A" stroke-width="4.8"/>
<rect x="578.98" y="3298.85" width="98.12" height="98.15" fill="#fddcaa" stroke="#9A9A9A" stroke-width="4.8"/>
<rect x="677.10" y="3298.85" width="98.12" height="98.15" fill="#fddcaa" stroke="#9A9A9A" stroke-width="4.8"/>
<text transform="translate(792.87,3372.91) scale(1,1.04)" font-size="65.50" fill="#000" style="font-kerning:none">CW07G  820</text>
<path transform="translate(1025.80,3372.91) scale(0.03198,-0.03326)" d="M763,0 L583,0 L583,1147 C540,1106 484,1065 415,1024 C346,983 284,952 223,930 L223,1104 C310,1145 404,1192 506,1269 C608,1346 675,1412 710,1466 L763,1466 Z" fill="#000"/>
<path transform="translate(1062.23,3372.91) scale(0.03198,-0.03326)" d="M763,0 L583,0 L583,1147 C540,1106 484,1065 415,1024 C346,983 284,952 223,930 L223,1104 C310,1145 404,1192 506,1269 C608,1346 675,1412 710,1466 L763,1466 Z" fill="#000"/>
<rect x="101.50" y="3397.00" width="65.50" height="98.15" fill="#CCEBC5" stroke="#9A9A9A" stroke-width="4.8"/>
<rect x="186.50" y="3397.00" width="98.12" height="98.15" fill="#da5f10" stroke="#9A9A9A" stroke-width="4.8"/>
<rect x="284.62" y="3397.00" width="98.12" height="98.15" fill="#f9cd98" stroke="#9A9A9A" stroke-width="4.8"/>
<rect x="382.74" y="3397.00" width="98.12" height="98.15" fill="#fddcaa" stroke="#9A9A9A" stroke-width="4.8"/>
<rect x="480.86" y="3397.00" width="98.12" height="98.15" fill="#f2b47a" stroke="#9A9A9A" stroke-width="4.8"/>
<rect x="578.98" y="3397.00" width="98.12" height="98.15" fill="#eda466" stroke="#9A9A9A" stroke-width="4.8"/>
<rect x="677.10" y="3397.00" width="98.12" height="98.15" fill="#f5bf88" stroke="#9A9A9A" stroke-width="4.8"/>
<text transform="translate(792.87,3471.20) scale(1,1.04)" font-size="65.50" fill="#000" style="font-kerning:none">CW09G  330</text>
<path transform="translate(1025.80,3471.20) scale(0.03198,-0.03326)" d="M763,0 L583,0 L583,1147 C540,1106 484,1065 415,1024 C346,983 284,952 223,930 L223,1104 C310,1145 404,1192 506,1269 C608,1346 675,1412 710,1466 L763,1466 Z" fill="#000"/>
<path transform="translate(1062.23,3471.20) scale(0.03198,-0.03326)" d="M763,0 L583,0 L583,1147 C540,1106 484,1065 415,1024 C346,983 284,952 223,930 L223,1104 C310,1145 404,1192 506,1269 C608,1346 675,1412 710,1466 L763,1466 Z" fill="#000"/>
<rect x="101.50" y="3495.15" width="65.50" height="98.15" fill="#FFED6F" stroke="#9A9A9A" stroke-width="4.8"/>
<rect x="186.50" y="3495.15" width="98.12" height="98.15" fill="#f4ba81" stroke="#9A9A9A" stroke-width="4.8"/>
<rect x="284.62" y="3495.15" width="98.12" height="98.15" fill="#eda466" stroke="#9A9A9A" stroke-width="4.8"/>
<rect x="382.74" y="3495.15" width="98.12" height="98.15" fill="#e58b42" stroke="#9A9A9A" stroke-width="4.8"/>
<rect x="480.86" y="3495.15" width="98.12" height="98.15" fill="#fddcaa" stroke="#9A9A9A" stroke-width="4.8"/>
<rect x="578.98" y="3495.15" width="98.12" height="98.15" fill="#eb9f5e" stroke="#9A9A9A" stroke-width="4.8"/>
<rect x="677.10" y="3495.15" width="98.12" height="98.15" fill="#da5f10" stroke="#9A9A9A" stroke-width="4.8"/>
<text transform="translate(792.87,3569.49) scale(1,1.04)" font-size="65.50" fill="#000">CW05G09530</text>
<rect x="101.50" y="3593.30" width="65.50" height="98.15" fill="#66C2A5" stroke="#9A9A9A" stroke-width="4.8"/>
<rect x="186.50" y="3593.30" width="98.12" height="98.15" fill="#fddcaa" stroke="#9A9A9A" stroke-width="4.8"/>
<rect x="284.62" y="3593.30" width="98.12" height="98.15" fill="#eda466" stroke="#9A9A9A" stroke-width="4.8"/>
<rect x="382.74" y="3593.30" width="98.12" height="98.15" fill="#da5f10" stroke="#9A9A9A" stroke-width="4.8"/>
<rect x="480.86" y="3593.30" width="98.12" height="98.15" fill="#f5bf88" stroke="#9A9A9A" stroke-width="4.8"/>
<rect x="578.98" y="3593.30" width="98.12" height="98.15" fill="#fcd7a4" stroke="#9A9A9A" stroke-width="4.8"/>
<rect x="677.10" y="3593.30" width="98.12" height="98.15" fill="#de6d20" stroke="#9A9A9A" stroke-width="4.8"/>
<text transform="translate(792.87,3667.78) scale(1,1.04)" font-size="65.50" fill="#000" style="font-kerning:none">CW0 G35920</text>
<path transform="translate(938.43,3667.78) scale(0.03198,-0.03326)" d="M763,0 L583,0 L583,1147 C540,1106 484,1065 415,1024 C346,983 284,952 223,930 L223,1104 C310,1145 404,1192 506,1269 C608,1346 675,1412 710,1466 L763,1466 Z" fill="#000"/>
<rect x="101.50" y="3691.45" width="65.50" height="98.15" fill="#FC8D62" stroke="#9A9A9A" stroke-width="4.8"/>
<rect x="186.50" y="3691.45" width="98.12" height="98.15" fill="#fddcaa" stroke="#9A9A9A" stroke-width="4.8"/>
<rect x="284.62" y="3691.45" width="98.12" height="98.15" fill="#f2b47a" stroke="#9A9A9A" stroke-width="4.8"/>
<rect x="382.74" y="3691.45" width="98.12" height="98.15" fill="#eda466" stroke="#9A9A9A" stroke-width="4.8"/>
<rect x="480.86" y="3691.45" width="98.12" height="98.15" fill="#fddcaa" stroke="#9A9A9A" stroke-width="4.8"/>
<rect x="578.98" y="3691.45" width="98.12" height="98.15" fill="#da5f10" stroke="#9A9A9A" stroke-width="4.8"/>
<rect x="677.10" y="3691.45" width="98.12" height="98.15" fill="#de6d20" stroke="#9A9A9A" stroke-width="4.8"/>
<text transform="translate(792.87,3766.07) scale(1,1.04)" font-size="65.50" fill="#000" style="font-kerning:none">CW0 G22780</text>
<path transform="translate(938.43,3766.07) scale(0.03198,-0.03326)" d="M763,0 L583,0 L583,1147 C540,1106 484,1065 415,1024 C346,983 284,952 223,930 L223,1104 C310,1145 404,1192 506,1269 C608,1346 675,1412 710,1466 L763,1466 Z" fill="#000"/>
<rect x="101.50" y="3789.60" width="65.50" height="98.15" fill="#8DA0CB" stroke="#9A9A9A" stroke-width="4.8"/>
<rect x="186.50" y="3789.60" width="98.12" height="98.15" fill="#f6c48d" stroke="#9A9A9A" stroke-width="4.8"/>
<rect x="284.62" y="3789.60" width="98.12" height="98.15" fill="#e0742a" stroke="#9A9A9A" stroke-width="4.8"/>
<rect x="382.74" y="3789.60" width="98.12" height="98.15" fill="#e0742a" stroke="#9A9A9A" stroke-width="4.8"/>
<rect x="480.86" y="3789.60" width="98.12" height="98.15" fill="#fddcaa" stroke="#9A9A9A" stroke-width="4.8"/>
<rect x="578.98" y="3789.60" width="98.12" height="98.15" fill="#da5f10" stroke="#9A9A9A" stroke-width="4.8"/>
<rect x="677.10" y="3789.60" width="98.12" height="98.15" fill="#da5f10" stroke="#9A9A9A" stroke-width="4.8"/>
<text transform="translate(792.87,3864.36) scale(1,1.04)" font-size="65.50" fill="#000" style="font-kerning:none">CW04G 08 0</text>
<path transform="translate(1025.80,3864.36) scale(0.03198,-0.03326)" d="M763,0 L583,0 L583,1147 C540,1106 484,1065 415,1024 C346,983 284,952 223,930 L223,1104 C310,1145 404,1192 506,1269 C608,1346 675,1412 710,1466 L763,1466 Z" fill="#000"/>
<path transform="translate(1135.09,3864.36) scale(0.03198,-0.03326)" d="M763,0 L583,0 L583,1147 C540,1106 484,1065 415,1024 C346,983 284,952 223,930 L223,1104 C310,1145 404,1192 506,1269 C608,1346 675,1412 710,1466 L763,1466 Z" fill="#000"/>
<rect x="101.50" y="3887.75" width="65.50" height="98.15" fill="#8DA0CB" stroke="#9A9A9A" stroke-width="4.8"/>
<rect x="186.50" y="3887.75" width="98.12" height="98.15" fill="#da5f10" stroke="#9A9A9A" stroke-width="4.8"/>
<rect x="284.62" y="3887.75" width="98.12" height="98.15" fill="#f5bf88" stroke="#9A9A9A" stroke-width="4.8"/>
<rect x="382.74" y="3887.75" width="98.12" height="98.15" fill="#f4ba81" stroke="#9A9A9A" stroke-width="4.8"/>
<rect x="480.86" y="3887.75" width="98.12" height="98.15" fill="#e4843a" stroke="#9A9A9A" stroke-width="4.8"/>
<rect x="578.98" y="3887.75" width="98.12" height="98.15" fill="#f6c48d" stroke="#9A9A9A" stroke-width="4.8"/>
<rect x="677.10" y="3887.75" width="98.12" height="98.15" fill="#fddcaa" stroke="#9A9A9A" stroke-width="4.8"/>
<text transform="translate(792.87,3962.65) scale(1,1.04)" font-size="65.50" fill="#000" style="font-kerning:none">CW  G25480</text>
<path transform="translate(902.00,3962.65) scale(0.03198,-0.03326)" d="M763,0 L583,0 L583,1147 C540,1106 484,1065 415,1024 C346,983 284,952 223,930 L223,1104 C310,1145 404,1192 506,1269 C608,1346 675,1412 710,1466 L763,1466 Z" fill="#000"/>
<path transform="translate(938.43,3962.65) scale(0.03198,-0.03326)" d="M763,0 L583,0 L583,1147 C540,1106 484,1065 415,1024 C346,983 284,952 223,930 L223,1104 C310,1145 404,1192 506,1269 C608,1346 675,1412 710,1466 L763,1466 Z" fill="#000"/>
<rect x="101.50" y="3985.90" width="65.50" height="98.15" fill="#E78AC3" stroke="#9A9A9A" stroke-width="4.8"/>
<rect x="186.50" y="3985.90" width="98.12" height="98.15" fill="#fddcaa" stroke="#9A9A9A" stroke-width="4.8"/>
<rect x="284.62" y="3985.90" width="98.12" height="98.15" fill="#e58b42" stroke="#9A9A9A" stroke-width="4.8"/>
<rect x="382.74" y="3985.90" width="98.12" height="98.15" fill="#e27c33" stroke="#9A9A9A" stroke-width="4.8"/>
<rect x="480.86" y="3985.90" width="98.12" height="98.15" fill="#fddcaa" stroke="#9A9A9A" stroke-width="4.8"/>
<rect x="578.98" y="3985.90" width="98.12" height="98.15" fill="#e7924c" stroke="#9A9A9A" stroke-width="4.8"/>
<rect x="677.10" y="3985.90" width="98.12" height="98.15" fill="#da5f10" stroke="#9A9A9A" stroke-width="4.8"/>
<text transform="translate(792.87,4060.94) scale(1,1.04)" font-size="65.50" fill="#000">CW08G00200</text>
<rect x="53.0" y="2906.2" width="1191.0" height="98.2" fill="none" stroke="#BC80BD" stroke-width="6.5"/>
<rect x="53.0" y="3495.2" width="1191.0" height="98.2" fill="none" stroke="#FFED6F" stroke-width="6.5"/>
<rect x="53.0" y="3985.9" width="1191.0" height="98.2" fill="none" stroke="#E78AC3" stroke-width="6.5"/>
<text x="5.23" y="4156.00" font-size="65.50" fill="#000">Enzyme</text>
<text x="1321.09" y="2380.60" font-size="65.76" fill="#000">Group</text>
<rect x="1323.50" y="2406.80" width="94.50" height="93.70" fill="#A6CEE3" stroke="#9A9A9A" stroke-width="4.4"/>
<text transform="translate(1435.53,2478.00) scale(1,1.04)" font-size="65.50" fill="#000" style="font-kerning:none">H </text>
<path transform="translate(1482.83,2478.00) scale(0.03198,-0.03326)" d="M763,0 L583,0 L583,1147 C540,1106 484,1065 415,1024 C346,983 284,952 223,930 L223,1104 C310,1145 404,1192 506,1269 C608,1346 675,1412 710,1466 L763,1466 Z" fill="#000"/>
<rect x="1323.50" y="2500.50" width="94.50" height="93.70" fill="#1F78B4" stroke="#9A9A9A" stroke-width="4.4"/>
<text transform="translate(1435.53,2571.70) scale(1,1.04)" font-size="65.50" fill="#000">H2</text>
<rect x="1323.50" y="2594.20" width="94.50" height="93.70" fill="#B2DF8A" stroke="#9A9A9A" stroke-width="4.4"/>
<text transform="translate(1435.53,2665.40) scale(1,1.04)" font-size="65.50" fill="#000">H3</text>
<rect x="1323.50" y="2687.90" width="94.50" height="93.70" fill="#33A02C" stroke="#9A9A9A" stroke-width="4.4"/>
<text transform="translate(1435.53,2759.10) scale(1,1.04)" font-size="65.50" fill="#000" style="font-kerning:none">L </text>
<path transform="translate(1471.95,2759.10) scale(0.03198,-0.03326)" d="M763,0 L583,0 L583,1147 C540,1106 484,1065 415,1024 C346,983 284,952 223,930 L223,1104 C310,1145 404,1192 506,1269 C608,1346 675,1412 710,1466 L763,1466 Z" fill="#000"/>
<rect x="1323.50" y="2781.60" width="94.50" height="93.70" fill="#FB9A99" stroke="#9A9A9A" stroke-width="4.4"/>
<text transform="translate(1435.53,2852.80) scale(1,1.04)" font-size="65.50" fill="#000">L2</text>
<rect x="1323.50" y="2875.30" width="94.50" height="93.70" fill="#E31A1C" stroke="#9A9A9A" stroke-width="4.4"/>
<text transform="translate(1435.53,2946.50) scale(1,1.04)" font-size="65.50" fill="#000">L3</text>
<text x="1264.75" y="3078.50" font-size="65.57" fill="#000">row max</text>
<rect x="1346.5" y="3102.4" width="65.5" height="977.6" fill="url(#gRow)"/>
<rect x="1346.5" y="3112.2" width="65.5" height="1.3" fill="#FFFFFF" fill-opacity="0.22"/>
<rect x="1346.5" y="3122.0" width="65.5" height="1.3" fill="#FFFFFF" fill-opacity="0.22"/>
<rect x="1346.5" y="3131.7" width="65.5" height="1.3" fill="#FFFFFF" fill-opacity="0.22"/>
<rect x="1346.5" y="3141.5" width="65.5" height="1.3" fill="#FFFFFF" fill-opacity="0.22"/>
<rect x="1346.5" y="3151.3" width="65.5" height="1.3" fill="#FFFFFF" fill-opacity="0.22"/>
<rect x="1346.5" y="3161.1" width="65.5" height="1.3" fill="#FFFFFF" fill-opacity="0.22"/>
<rect x="1346.5" y="3170.9" width="65.5" height="1.3" fill="#FFFFFF" fill-opacity="0.22"/>
<rect x="1346.5" y="3180.6" width="65.5" height="1.3" fill="#FFFFFF" fill-opacity="0.22"/>
<rect x="1346.5" y="3190.4" width="65.5" height="1.3" fill="#FFFFFF" fill-opacity="0.22"/>
<rect x="1346.5" y="3200.2" width="65.5" height="1.3" fill="#FFFFFF" fill-opacity="0.22"/>
<rect x="1346.5" y="3210.0" width="65.5" height="1.3" fill="#FFFFFF" fill-opacity="0.22"/>
<rect x="1346.5" y="3219.8" width="65.5" height="1.3" fill="#FFFFFF" fill-opacity="0.22"/>
<rect x="1346.5" y="3229.5" width="65.5" height="1.3" fill="#FFFFFF" fill-opacity="0.22"/>
<rect x="1346.5" y="3239.3" width="65.5" height="1.3" fill="#FFFFFF" fill-opacity="0.22"/>
<rect x="1346.5" y="3249.1" width="65.5" height="1.3" fill="#FFFFFF" fill-opacity="0.22"/>
<rect x="1346.5" y="3258.9" width="65.5" height="1.3" fill="#FFFFFF" fill-opacity="0.22"/>
<rect x="1346.5" y="3268.7" width="65.5" height="1.3" fill="#FFFFFF" fill-opacity="0.22"/>
<rect x="1346.5" y="3278.4" width="65.5" height="1.3" fill="#FFFFFF" fill-opacity="0.22"/>
<rect x="1346.5" y="3288.2" width="65.5" height="1.3" fill="#FFFFFF" fill-opacity="0.22"/>
<rect x="1346.5" y="3298.0" width="65.5" height="1.3" fill="#FFFFFF" fill-opacity="0.22"/>
<rect x="1346.5" y="3307.8" width="65.5" height="1.3" fill="#FFFFFF" fill-opacity="0.22"/>
<rect x="1346.5" y="3317.6" width="65.5" height="1.3" fill="#FFFFFF" fill-opacity="0.22"/>
<rect x="1346.5" y="3327.3" width="65.5" height="1.3" fill="#FFFFFF" fill-opacity="0.22"/>
<rect x="1346.5" y="3337.1" width="65.5" height="1.3" fill="#FFFFFF" fill-opacity="0.22"/>
<rect x="1346.5" y="3346.9" width="65.5" height="1.3" fill="#FFFFFF" fill-opacity="0.22"/>
<rect x="1346.5" y="3356.7" width="65.5" height="1.3" fill="#FFFFFF" fill-opacity="0.22"/>
<rect x="1346.5" y="3366.5" width="65.5" height="1.3" fill="#FFFFFF" fill-opacity="0.22"/>
<rect x="1346.5" y="3376.2" width="65.5" height="1.3" fill="#FFFFFF" fill-opacity="0.22"/>
<rect x="1346.5" y="3386.0" width="65.5" height="1.3" fill="#FFFFFF" fill-opacity="0.22"/>
<rect x="1346.5" y="3395.8" width="65.5" height="1.3" fill="#FFFFFF" fill-opacity="0.22"/>
<rect x="1346.5" y="3405.6" width="65.5" height="1.3" fill="#FFFFFF" fill-opacity="0.22"/>
<rect x="1346.5" y="3415.4" width="65.5" height="1.3" fill="#FFFFFF" fill-opacity="0.22"/>
<rect x="1346.5" y="3425.1" width="65.5" height="1.3" fill="#FFFFFF" fill-opacity="0.22"/>
<rect x="1346.5" y="3434.9" width="65.5" height="1.3" fill="#FFFFFF" fill-opacity="0.22"/>
<rect x="1346.5" y="3444.7" width="65.5" height="1.3" fill="#FFFFFF" fill-opacity="0.22"/>
<rect x="1346.5" y="3454.5" width="65.5" height="1.3" fill="#FFFFFF" fill-opacity="0.22"/>
<rect x="1346.5" y="3464.3" width="65.5" height="1.3" fill="#FFFFFF" fill-opacity="0.22"/>
<rect x="1346.5" y="3474.0" width="65.5" height="1.3" fill="#FFFFFF" fill-opacity="0.22"/>
<rect x="1346.5" y="3483.8" width="65.5" height="1.3" fill="#FFFFFF" fill-opacity="0.22"/>
<rect x="1346.5" y="3493.6" width="65.5" height="1.3" fill="#FFFFFF" fill-opacity="0.22"/>
<rect x="1346.5" y="3503.4" width="65.5" height="1.3" fill="#FFFFFF" fill-opacity="0.22"/>
<rect x="1346.5" y="3513.2" width="65.5" height="1.3" fill="#FFFFFF" fill-opacity="0.22"/>
<rect x="1346.5" y="3522.9" width="65.5" height="1.3" fill="#FFFFFF" fill-opacity="0.22"/>
<rect x="1346.5" y="3532.7" width="65.5" height="1.3" fill="#FFFFFF" fill-opacity="0.22"/>
<rect x="1346.5" y="3542.5" width="65.5" height="1.3" fill="#FFFFFF" fill-opacity="0.22"/>
<rect x="1346.5" y="3552.3" width="65.5" height="1.3" fill="#FFFFFF" fill-opacity="0.22"/>
<rect x="1346.5" y="3562.1" width="65.5" height="1.3" fill="#FFFFFF" fill-opacity="0.22"/>
<rect x="1346.5" y="3571.8" width="65.5" height="1.3" fill="#FFFFFF" fill-opacity="0.22"/>
<rect x="1346.5" y="3581.6" width="65.5" height="1.3" fill="#FFFFFF" fill-opacity="0.22"/>
<rect x="1346.5" y="3591.4" width="65.5" height="1.3" fill="#FFFFFF" fill-opacity="0.22"/>
<rect x="1346.5" y="3601.2" width="65.5" height="1.3" fill="#FFFFFF" fill-opacity="0.22"/>
<rect x="1346.5" y="3611.0" width="65.5" height="1.3" fill="#FFFFFF" fill-opacity="0.22"/>
<rect x="1346.5" y="3620.7" width="65.5" height="1.3" fill="#FFFFFF" fill-opacity="0.22"/>
<rect x="1346.5" y="3630.5" width="65.5" height="1.3" fill="#FFFFFF" fill-opacity="0.22"/>
<rect x="1346.5" y="3640.3" width="65.5" height="1.3" fill="#FFFFFF" fill-opacity="0.22"/>
<rect x="1346.5" y="3650.1" width="65.5" height="1.3" fill="#FFFFFF" fill-opacity="0.22"/>
<rect x="1346.5" y="3659.9" width="65.5" height="1.3" fill="#FFFFFF" fill-opacity="0.22"/>
<rect x="1346.5" y="3669.6" width="65.5" height="1.3" fill="#FFFFFF" fill-opacity="0.22"/>
<rect x="1346.5" y="3679.4" width="65.5" height="1.3" fill="#FFFFFF" fill-opacity="0.22"/>
<rect x="1346.5" y="3689.2" width="65.5" height="1.3" fill="#FFFFFF" fill-opacity="0.22"/>
<rect x="1346.5" y="3699.0" width="65.5" height="1.3" fill="#FFFFFF" fill-opacity="0.22"/>
<rect x="1346.5" y="3708.8" width="65.5" height="1.3" fill="#FFFFFF" fill-opacity="0.22"/>
<rect x="1346.5" y="3718.5" width="65.5" height="1.3" fill="#FFFFFF" fill-opacity="0.22"/>
<rect x="1346.5" y="3728.3" width="65.5" height="1.3" fill="#FFFFFF" fill-opacity="0.22"/>
<rect x="1346.5" y="3738.1" width="65.5" height="1.3" fill="#FFFFFF" fill-opacity="0.22"/>
<rect x="1346.5" y="3747.9" width="65.5" height="1.3" fill="#FFFFFF" fill-opacity="0.22"/>
<rect x="1346.5" y="3757.7" width="65.5" height="1.3" fill="#FFFFFF" fill-opacity="0.22"/>
<rect x="1346.5" y="3767.4" width="65.5" height="1.3" fill="#FFFFFF" fill-opacity="0.22"/>
<rect x="1346.5" y="3777.2" width="65.5" height="1.3" fill="#FFFFFF" fill-opacity="0.22"/>
<rect x="1346.5" y="3787.0" width="65.5" height="1.3" fill="#FFFFFF" fill-opacity="0.22"/>
<rect x="1346.5" y="3796.8" width="65.5" height="1.3" fill="#FFFFFF" fill-opacity="0.22"/>
<rect x="1346.5" y="3806.6" width="65.5" height="1.3" fill="#FFFFFF" fill-opacity="0.22"/>
<rect x="1346.5" y="3816.3" width="65.5" height="1.3" fill="#FFFFFF" fill-opacity="0.22"/>
<rect x="1346.5" y="3826.1" width="65.5" height="1.3" fill="#FFFFFF" fill-opacity="0.22"/>
<rect x="1346.5" y="3835.9" width="65.5" height="1.3" fill="#FFFFFF" fill-opacity="0.22"/>
<rect x="1346.5" y="3845.7" width="65.5" height="1.3" fill="#FFFFFF" fill-opacity="0.22"/>
<rect x="1346.5" y="3855.5" width="65.5" height="1.3" fill="#FFFFFF" fill-opacity="0.22"/>
<rect x="1346.5" y="3865.2" width="65.5" height="1.3" fill="#FFFFFF" fill-opacity="0.22"/>
<rect x="1346.5" y="3875.0" width="65.5" height="1.3" fill="#FFFFFF" fill-opacity="0.22"/>
<rect x="1346.5" y="3884.8" width="65.5" height="1.3" fill="#FFFFFF" fill-opacity="0.22"/>
<rect x="1346.5" y="3894.6" width="65.5" height="1.3" fill="#FFFFFF" fill-opacity="0.22"/>
<rect x="1346.5" y="3904.4" width="65.5" height="1.3" fill="#FFFFFF" fill-opacity="0.22"/>
<rect x="1346.5" y="3914.1" width="65.5" height="1.3" fill="#FFFFFF" fill-opacity="0.22"/>
<rect x="1346.5" y="3923.9" width="65.5" height="1.3" fill="#FFFFFF" fill-opacity="0.22"/>
<rect x="1346.5" y="3933.7" width="65.5" height="1.3" fill="#FFFFFF" fill-opacity="0.22"/>
<rect x="1346.5" y="3943.5" width="65.5" height="1.3" fill="#FFFFFF" fill-opacity="0.22"/>
<rect x="1346.5" y="3953.3" width="65.5" height="1.3" fill="#FFFFFF" fill-opacity="0.22"/>
<rect x="1346.5" y="3963.0" width="65.5" height="1.3" fill="#FFFFFF" fill-opacity="0.22"/>
<rect x="1346.5" y="3972.8" width="65.5" height="1.3" fill="#FFFFFF" fill-opacity="0.22"/>
<rect x="1346.5" y="3982.6" width="65.5" height="1.3" fill="#FFFFFF" fill-opacity="0.22"/>
<rect x="1346.5" y="3992.4" width="65.5" height="1.3" fill="#FFFFFF" fill-opacity="0.22"/>
<rect x="1346.5" y="4002.2" width="65.5" height="1.3" fill="#FFFFFF" fill-opacity="0.22"/>
<rect x="1346.5" y="4011.9" width="65.5" height="1.3" fill="#FFFFFF" fill-opacity="0.22"/>
<rect x="1346.5" y="4021.7" width="65.5" height="1.3" fill="#FFFFFF" fill-opacity="0.22"/>
<rect x="1346.5" y="4031.5" width="65.5" height="1.3" fill="#FFFFFF" fill-opacity="0.22"/>
<rect x="1346.5" y="4041.3" width="65.5" height="1.3" fill="#FFFFFF" fill-opacity="0.22"/>
<rect x="1346.5" y="4051.1" width="65.5" height="1.3" fill="#FFFFFF" fill-opacity="0.22"/>
<rect x="1346.5" y="4060.8" width="65.5" height="1.3" fill="#FFFFFF" fill-opacity="0.22"/>
<rect x="1346.5" y="4070.6" width="65.5" height="1.3" fill="#FFFFFF" fill-opacity="0.22"/>
<text x="1259.35" y="4149.30" font-size="65.50" fill="#000">row min</text>
<rect x="1694.30" y="2329.30" width="98.12" height="65.60" fill="#A6CEE3" stroke="#9A9A9A" stroke-width="4.8"/>
<rect x="1792.42" y="2329.30" width="98.12" height="65.60" fill="#1F78B4" stroke="#9A9A9A" stroke-width="4.8"/>
<rect x="1890.54" y="2329.30" width="98.12" height="65.60" fill="#B2DF8A" stroke="#9A9A9A" stroke-width="4.8"/>
<rect x="1988.66" y="2329.30" width="98.12" height="65.60" fill="#33A02C" stroke="#9A9A9A" stroke-width="4.8"/>
<rect x="2086.78" y="2329.30" width="98.12" height="65.60" fill="#FB9A99" stroke="#9A9A9A" stroke-width="4.8"/>
<rect x="2184.90" y="2329.30" width="98.12" height="65.60" fill="#E31A1C" stroke="#9A9A9A" stroke-width="4.8"/>
<text x="2302.91" y="2386.00" font-size="65.50" fill="#000">Group</text>
<rect x="1608.90" y="2415.50" width="65.20" height="98.15" fill="#8DD3C7" stroke="#9A9A9A" stroke-width="4.8"/>
<rect x="1694.30" y="2415.50" width="98.12" height="98.15" fill="#fcd7a4" stroke="#9A9A9A" stroke-width="4.8"/>
<rect x="1792.42" y="2415.50" width="98.12" height="98.15" fill="#eda466" stroke="#9A9A9A" stroke-width="4.8"/>
<rect x="1890.54" y="2415.50" width="98.12" height="98.15" fill="#da5f10" stroke="#9A9A9A" stroke-width="4.8"/>
<rect x="1988.66" y="2415.50" width="98.12" height="98.15" fill="#f6c48d" stroke="#9A9A9A" stroke-width="4.8"/>
<rect x="2086.78" y="2415.50" width="98.12" height="98.15" fill="#e58b42" stroke="#9A9A9A" stroke-width="4.8"/>
<rect x="2184.90" y="2415.50" width="98.12" height="98.15" fill="#fddcaa" stroke="#9A9A9A" stroke-width="4.8"/>
<text x="2301.23" y="2488.30" font-size="65.45" fill="#000">Morachalcone A</text>
<rect x="1608.90" y="2513.65" width="65.20" height="98.15" fill="#FFFFB3" stroke="#9A9A9A" stroke-width="4.8"/>
<rect x="1694.30" y="2513.65" width="98.12" height="98.15" fill="#fddcaa" stroke="#9A9A9A" stroke-width="4.8"/>
<rect x="1792.42" y="2513.65" width="98.12" height="98.15" fill="#fcd7a4" stroke="#9A9A9A" stroke-width="4.8"/>
<rect x="1890.54" y="2513.65" width="98.12" height="98.15" fill="#da5f10" stroke="#9A9A9A" stroke-width="4.8"/>
<rect x="1988.66" y="2513.65" width="98.12" height="98.15" fill="#fddcaa" stroke="#9A9A9A" stroke-width="4.8"/>
<rect x="2086.78" y="2513.65" width="98.12" height="98.15" fill="#f5bf88" stroke="#9A9A9A" stroke-width="4.8"/>
<rect x="2184.90" y="2513.65" width="98.12" height="98.15" fill="#e27c33" stroke="#9A9A9A" stroke-width="4.8"/>
<text x="2301.23" y="2586.55" font-size="65.45" fill="#000">Naringenin chalcone*</text>
<rect x="1608.90" y="2611.80" width="65.20" height="98.15" fill="#FFFFB3" stroke="#9A9A9A" stroke-width="4.8"/>
<rect x="1694.30" y="2611.80" width="98.12" height="98.15" fill="#fddcaa" stroke="#9A9A9A" stroke-width="4.8"/>
<rect x="1792.42" y="2611.80" width="98.12" height="98.15" fill="#fad29e" stroke="#9A9A9A" stroke-width="4.8"/>
<rect x="1890.54" y="2611.80" width="98.12" height="98.15" fill="#da5f10" stroke="#9A9A9A" stroke-width="4.8"/>
<rect x="1988.66" y="2611.80" width="98.12" height="98.15" fill="#fddcaa" stroke="#9A9A9A" stroke-width="4.8"/>
<rect x="2086.78" y="2611.80" width="98.12" height="98.15" fill="#f5bf88" stroke="#9A9A9A" stroke-width="4.8"/>
<rect x="2184.90" y="2611.80" width="98.12" height="98.15" fill="#e27c33" stroke="#9A9A9A" stroke-width="4.8"/>
<text x="2301.23" y="2684.80" font-size="65.45" fill="#000">Naringenin (5,7,4'−Trihydroxyflavanone)*</text>
<rect x="1608.90" y="2709.95" width="65.20" height="98.15" fill="#FFFFB3" stroke="#9A9A9A" stroke-width="4.8"/>
<rect x="1694.30" y="2709.95" width="98.12" height="98.15" fill="#fddcaa" stroke="#9A9A9A" stroke-width="4.8"/>
<rect x="1792.42" y="2709.95" width="98.12" height="98.15" fill="#f5bf88" stroke="#9A9A9A" stroke-width="4.8"/>
<rect x="1890.54" y="2709.95" width="98.12" height="98.15" fill="#eda466" stroke="#9A9A9A" stroke-width="4.8"/>
<rect x="1988.66" y="2709.95" width="98.12" height="98.15" fill="#e99a57" stroke="#9A9A9A" stroke-width="4.8"/>
<rect x="2086.78" y="2709.95" width="98.12" height="98.15" fill="#da5f10" stroke="#9A9A9A" stroke-width="4.8"/>
<rect x="2184.90" y="2709.95" width="98.12" height="98.15" fill="#da5f10" stroke="#9A9A9A" stroke-width="4.8"/>
<text x="2301.23" y="2783.05" font-size="65.45" fill="#000">Naringenin−4'−O−glucoside</text>
<rect x="1608.90" y="2808.10" width="65.20" height="98.15" fill="#BEBADA" stroke="#9A9A9A" stroke-width="4.8"/>
<rect x="1694.30" y="2808.10" width="98.12" height="98.15" fill="#fddcaa" stroke="#9A9A9A" stroke-width="4.8"/>
<rect x="1792.42" y="2808.10" width="98.12" height="98.15" fill="#f5bf88" stroke="#9A9A9A" stroke-width="4.8"/>
<rect x="1890.54" y="2808.10" width="98.12" height="98.15" fill="#da5f10" stroke="#9A9A9A" stroke-width="4.8"/>
<rect x="1988.66" y="2808.10" width="98.12" height="98.15" fill="#f5bf88" stroke="#9A9A9A" stroke-width="4.8"/>
<rect x="2086.78" y="2808.10" width="98.12" height="98.15" fill="#eb9f5e" stroke="#9A9A9A" stroke-width="4.8"/>
<rect x="2184.90" y="2808.10" width="98.12" height="98.15" fill="#e27c33" stroke="#9A9A9A" stroke-width="4.8"/>
<text x="2301.23" y="2881.30" font-size="65.45" fill="#000">Dihydrokaempferol</text>
<rect x="1608.90" y="2906.25" width="65.20" height="98.15" fill="#BEBADA" stroke="#9A9A9A" stroke-width="4.8"/>
<rect x="1694.30" y="2906.25" width="98.12" height="98.15" fill="#fddcaa" stroke="#9A9A9A" stroke-width="4.8"/>
<rect x="1792.42" y="2906.25" width="98.12" height="98.15" fill="#f0ac70" stroke="#9A9A9A" stroke-width="4.8"/>
<rect x="1890.54" y="2906.25" width="98.12" height="98.15" fill="#e0742a" stroke="#9A9A9A" stroke-width="4.8"/>
<rect x="1988.66" y="2906.25" width="98.12" height="98.15" fill="#f0ac70" stroke="#9A9A9A" stroke-width="4.8"/>
<rect x="2086.78" y="2906.25" width="98.12" height="98.15" fill="#e99a57" stroke="#9A9A9A" stroke-width="4.8"/>
<rect x="2184.90" y="2906.25" width="98.12" height="98.15" fill="#da5f10" stroke="#9A9A9A" stroke-width="4.8"/>
<text x="2301.23" y="2979.55" font-size="65.45" fill="#000">Dihydrokaempferol−7−O−glucoside</text>
<rect x="1608.90" y="3004.40" width="65.20" height="98.15" fill="#FB8072" stroke="#9A9A9A" stroke-width="4.8"/>
<rect x="1694.30" y="3004.40" width="98.12" height="98.15" fill="#da5f10" stroke="#9A9A9A" stroke-width="4.8"/>
<rect x="1792.42" y="3004.40" width="98.12" height="98.15" fill="#e58b42" stroke="#9A9A9A" stroke-width="4.8"/>
<rect x="1890.54" y="3004.40" width="98.12" height="98.15" fill="#f8c893" stroke="#9A9A9A" stroke-width="4.8"/>
<rect x="1988.66" y="3004.40" width="98.12" height="98.15" fill="#f6c48d" stroke="#9A9A9A" stroke-width="4.8"/>
<rect x="2086.78" y="3004.40" width="98.12" height="98.15" fill="#f2b47a" stroke="#9A9A9A" stroke-width="4.8"/>
<rect x="2184.90" y="3004.40" width="98.12" height="98.15" fill="#fddcaa" stroke="#9A9A9A" stroke-width="4.8"/>
<text x="2301.23" y="3077.80" font-size="65.45" fill="#000">Delphinidin</text>
<rect x="1608.90" y="3102.55" width="65.20" height="98.15" fill="#80B1D3" stroke="#9A9A9A" stroke-width="4.8"/>
<rect x="1694.30" y="3102.55" width="98.12" height="98.15" fill="#fddcaa" stroke="#9A9A9A" stroke-width="4.8"/>
<rect x="1792.42" y="3102.55" width="98.12" height="98.15" fill="#f5bf88" stroke="#9A9A9A" stroke-width="4.8"/>
<rect x="1890.54" y="3102.55" width="98.12" height="98.15" fill="#e7924c" stroke="#9A9A9A" stroke-width="4.8"/>
<rect x="1988.66" y="3102.55" width="98.12" height="98.15" fill="#fddcaa" stroke="#9A9A9A" stroke-width="4.8"/>
<rect x="2086.78" y="3102.55" width="98.12" height="98.15" fill="#e4843a" stroke="#9A9A9A" stroke-width="4.8"/>
<rect x="2184.90" y="3102.55" width="98.12" height="98.15" fill="#da5f10" stroke="#9A9A9A" stroke-width="4.8"/>
<text x="2303.28" y="3176.05" font-size="65.45" fill="#000">Cyanidin−3−O−(6&quot;−O−p−Coumaroyl)glucoside</text>
<rect x="1608.90" y="3200.70" width="65.20" height="98.15" fill="#80B1D3" stroke="#9A9A9A" stroke-width="4.8"/>
<rect x="1694.30" y="3200.70" width="98.12" height="98.15" fill="#fddcaa" stroke="#9A9A9A" stroke-width="4.8"/>
<rect x="1792.42" y="3200.70" width="98.12" height="98.15" fill="#fddcaa" stroke="#9A9A9A" stroke-width="4.8"/>
<rect x="1890.54" y="3200.70" width="98.12" height="98.15" fill="#e4843a" stroke="#9A9A9A" stroke-width="4.8"/>
<rect x="1988.66" y="3200.70" width="98.12" height="98.15" fill="#fddcaa" stroke="#9A9A9A" stroke-width="4.8"/>
<rect x="2086.78" y="3200.70" width="98.12" height="98.15" fill="#f9cd98" stroke="#9A9A9A" stroke-width="4.8"/>
<rect x="2184.90" y="3200.70" width="98.12" height="98.15" fill="#da5f10" stroke="#9A9A9A" stroke-width="4.8"/>
<text x="2303.28" y="3274.30" font-size="65.45" fill="#000">Cyanidin−3−O−(6&quot;−O−caffeoyl)glucoside*</text>
<rect x="1608.90" y="3298.85" width="65.20" height="98.15" fill="#80B1D3" stroke="#9A9A9A" stroke-width="4.8"/>
<rect x="1694.30" y="3298.85" width="98.12" height="98.15" fill="#fddcaa" stroke="#9A9A9A" stroke-width="4.8"/>
<rect x="1792.42" y="3298.85" width="98.12" height="98.15" fill="#e27c33" stroke="#9A9A9A" stroke-width="4.8"/>
<rect x="1890.54" y="3298.85" width="98.12" height="98.15" fill="#e27c33" stroke="#9A9A9A" stroke-width="4.8"/>
<rect x="1988.66" y="3298.85" width="98.12" height="98.15" fill="#e99a57" stroke="#9A9A9A" stroke-width="4.8"/>
<rect x="2086.78" y="3298.85" width="98.12" height="98.15" fill="#da5f10" stroke="#9A9A9A" stroke-width="4.8"/>
<rect x="2184.90" y="3298.85" width="98.12" height="98.15" fill="#da5f10" stroke="#9A9A9A" stroke-width="4.8"/>
<text x="2301.23" y="3372.55" font-size="65.45" fill="#000">Delphinidin−3−O−(6&quot;−O−p−coumaroyl)glucoside*</text>
<rect x="1608.90" y="3397.00" width="65.20" height="98.15" fill="#80B1D3" stroke="#9A9A9A" stroke-width="4.8"/>
<rect x="1694.30" y="3397.00" width="98.12" height="98.15" fill="#f8c893" stroke="#9A9A9A" stroke-width="4.8"/>
<rect x="1792.42" y="3397.00" width="98.12" height="98.15" fill="#e0742a" stroke="#9A9A9A" stroke-width="4.8"/>
<rect x="1890.54" y="3397.00" width="98.12" height="98.15" fill="#e99a57" stroke="#9A9A9A" stroke-width="4.8"/>
<rect x="1988.66" y="3397.00" width="98.12" height="98.15" fill="#fddcaa" stroke="#9A9A9A" stroke-width="4.8"/>
<rect x="2086.78" y="3397.00" width="98.12" height="98.15" fill="#e99a57" stroke="#9A9A9A" stroke-width="4.8"/>
<rect x="2184.90" y="3397.00" width="98.12" height="98.15" fill="#da5f10" stroke="#9A9A9A" stroke-width="4.8"/>
<text x="2303.28" y="3470.80" font-size="65.45" fill="#000">Cyanidin−3−O−(2&quot;−O−glucosyl)glucoside</text>
<rect x="1608.90" y="3495.15" width="65.20" height="98.15" fill="#80B1D3" stroke="#9A9A9A" stroke-width="4.8"/>
<rect x="1694.30" y="3495.15" width="98.12" height="98.15" fill="#fddcaa" stroke="#9A9A9A" stroke-width="4.8"/>
<rect x="1792.42" y="3495.15" width="98.12" height="98.15" fill="#f2b47a" stroke="#9A9A9A" stroke-width="4.8"/>
<rect x="1890.54" y="3495.15" width="98.12" height="98.15" fill="#e4843a" stroke="#9A9A9A" stroke-width="4.8"/>
<rect x="1988.66" y="3495.15" width="98.12" height="98.15" fill="#f8c893" stroke="#9A9A9A" stroke-width="4.8"/>
<rect x="2086.78" y="3495.15" width="98.12" height="98.15" fill="#e58b42" stroke="#9A9A9A" stroke-width="4.8"/>
<rect x="2184.90" y="3495.15" width="98.12" height="98.15" fill="#da5f10" stroke="#9A9A9A" stroke-width="4.8"/>
<text x="2301.23" y="3569.05" font-size="65.45" fill="#000">Petunidin−3−O−(6&quot;−O−p−Coumaroyl)glucoside</text>
<rect x="1608.90" y="3593.30" width="65.20" height="98.15" fill="#80B1D3" stroke="#9A9A9A" stroke-width="4.8"/>
<rect x="1694.30" y="3593.30" width="98.12" height="98.15" fill="#fddcaa" stroke="#9A9A9A" stroke-width="4.8"/>
<rect x="1792.42" y="3593.30" width="98.12" height="98.15" fill="#f2b47a" stroke="#9A9A9A" stroke-width="4.8"/>
<rect x="1890.54" y="3593.30" width="98.12" height="98.15" fill="#e4843a" stroke="#9A9A9A" stroke-width="4.8"/>
<rect x="1988.66" y="3593.30" width="98.12" height="98.15" fill="#e27c33" stroke="#9A9A9A" stroke-width="4.8"/>
<rect x="2086.78" y="3593.30" width="98.12" height="98.15" fill="#e4843a" stroke="#9A9A9A" stroke-width="4.8"/>
<rect x="2184.90" y="3593.30" width="98.12" height="98.15" fill="#da5f10" stroke="#9A9A9A" stroke-width="4.8"/>
<text x="2301.23" y="3667.30" font-size="65.45" fill="#000">Delphinidin−3−O−(2‴−O−p−coumaroyl)rutinoside</text>
<rect x="1608.90" y="3691.45" width="65.20" height="98.15" fill="#80B1D3" stroke="#9A9A9A" stroke-width="4.8"/>
<rect x="1694.30" y="3691.45" width="98.12" height="98.15" fill="#fddcaa" stroke="#9A9A9A" stroke-width="4.8"/>
<rect x="1792.42" y="3691.45" width="98.12" height="98.15" fill="#f5bf88" stroke="#9A9A9A" stroke-width="4.8"/>
<rect x="1890.54" y="3691.45" width="98.12" height="98.15" fill="#e7924c" stroke="#9A9A9A" stroke-width="4.8"/>
<rect x="1988.66" y="3691.45" width="98.12" height="98.15" fill="#fddcaa" stroke="#9A9A9A" stroke-width="4.8"/>
<rect x="2086.78" y="3691.45" width="98.12" height="98.15" fill="#e4843a" stroke="#9A9A9A" stroke-width="4.8"/>
<rect x="2184.90" y="3691.45" width="98.12" height="98.15" fill="#da5f10" stroke="#9A9A9A" stroke-width="4.8"/>
<text x="2303.28" y="3765.55" font-size="65.45" fill="#000">Cyanidin−3−O−sophoroside−5−O−glucoside</text>
<rect x="1608.90" y="3789.60" width="65.20" height="98.15" fill="#80B1D3" stroke="#9A9A9A" stroke-width="4.8"/>
<rect x="1694.30" y="3789.60" width="98.12" height="98.15" fill="#f9cd98" stroke="#9A9A9A" stroke-width="4.8"/>
<rect x="1792.42" y="3789.60" width="98.12" height="98.15" fill="#e58b42" stroke="#9A9A9A" stroke-width="4.8"/>
<rect x="1890.54" y="3789.60" width="98.12" height="98.15" fill="#dc6618" stroke="#9A9A9A" stroke-width="4.8"/>
<rect x="1988.66" y="3789.60" width="98.12" height="98.15" fill="#fddcaa" stroke="#9A9A9A" stroke-width="4.8"/>
<rect x="2086.78" y="3789.60" width="98.12" height="98.15" fill="#e4843a" stroke="#9A9A9A" stroke-width="4.8"/>
<rect x="2184.90" y="3789.60" width="98.12" height="98.15" fill="#da5f10" stroke="#9A9A9A" stroke-width="4.8"/>
<text x="2301.23" y="3863.80" font-size="65.45" fill="#000">Delphinidin−3,5,3'−Tri−O−glucoside</text>
<rect x="1608.90" y="3887.75" width="65.20" height="98.15" fill="#80B1D3" stroke="#9A9A9A" stroke-width="4.8"/>
<rect x="1694.30" y="3887.75" width="98.12" height="98.15" fill="#fddcaa" stroke="#9A9A9A" stroke-width="4.8"/>
<rect x="1792.42" y="3887.75" width="98.12" height="98.15" fill="#e99a57" stroke="#9A9A9A" stroke-width="4.8"/>
<rect x="1890.54" y="3887.75" width="98.12" height="98.15" fill="#e27c33" stroke="#9A9A9A" stroke-width="4.8"/>
<rect x="1988.66" y="3887.75" width="98.12" height="98.15" fill="#fddcaa" stroke="#9A9A9A" stroke-width="4.8"/>
<rect x="2086.78" y="3887.75" width="98.12" height="98.15" fill="#f0ac70" stroke="#9A9A9A" stroke-width="4.8"/>
<rect x="2184.90" y="3887.75" width="98.12" height="98.15" fill="#da5f10" stroke="#9A9A9A" stroke-width="4.8"/>
<text x="2301.23" y="3962.05" font-size="65.45" fill="#000">Delphinidin−3−O−glucoside (Mirtillin)</text>
<rect x="1608.90" y="3985.90" width="65.20" height="98.15" fill="#80B1D3" stroke="#9A9A9A" stroke-width="4.8"/>
<rect x="1694.30" y="3985.90" width="98.12" height="98.15" fill="#e27c33" stroke="#9A9A9A" stroke-width="4.8"/>
<rect x="1792.42" y="3985.90" width="98.12" height="98.15" fill="#fddcaa" stroke="#9A9A9A" stroke-width="4.8"/>
<rect x="1890.54" y="3985.90" width="98.12" height="98.15" fill="#f2b47a" stroke="#9A9A9A" stroke-width="4.8"/>
<rect x="1988.66" y="3985.90" width="98.12" height="98.15" fill="#da5f10" stroke="#9A9A9A" stroke-width="4.8"/>
<rect x="2086.78" y="3985.90" width="98.12" height="98.15" fill="#f0ac70" stroke="#9A9A9A" stroke-width="4.8"/>
<rect x="2184.90" y="3985.90" width="98.12" height="98.15" fill="#e58b42" stroke="#9A9A9A" stroke-width="4.8"/>
<text x="2301.23" y="4060.30" font-size="65.45" fill="#000">Betanin (Betanidin−5−O−glucoside)</text>
<rect x="1608.90" y="4084.05" width="65.20" height="98.15" fill="#80B1D3" stroke="#9A9A9A" stroke-width="4.8"/>
<rect x="1694.30" y="4084.05" width="98.12" height="98.15" fill="#eda466" stroke="#9A9A9A" stroke-width="4.8"/>
<rect x="1792.42" y="4084.05" width="98.12" height="98.15" fill="#da5f10" stroke="#9A9A9A" stroke-width="4.8"/>
<rect x="1890.54" y="4084.05" width="98.12" height="98.15" fill="#eda466" stroke="#9A9A9A" stroke-width="4.8"/>
<rect x="1988.66" y="4084.05" width="98.12" height="98.15" fill="#eda466" stroke="#9A9A9A" stroke-width="4.8"/>
<rect x="2086.78" y="4084.05" width="98.12" height="98.15" fill="#f2b47a" stroke="#9A9A9A" stroke-width="4.8"/>
<rect x="2184.90" y="4084.05" width="98.12" height="98.15" fill="#fddcaa" stroke="#9A9A9A" stroke-width="4.8"/>
<text x="2301.23" y="4158.55" font-size="65.45" fill="#000">Pelargonidin−3−O−glucoside</text>
<rect x="1608.90" y="4182.20" width="65.20" height="98.15" fill="#80B1D3" stroke="#9A9A9A" stroke-width="4.8"/>
<rect x="1694.30" y="4182.20" width="98.12" height="98.15" fill="#da5f10" stroke="#9A9A9A" stroke-width="4.8"/>
<rect x="1792.42" y="4182.20" width="98.12" height="98.15" fill="#fddcaa" stroke="#9A9A9A" stroke-width="4.8"/>
<rect x="1890.54" y="4182.20" width="98.12" height="98.15" fill="#f2b47a" stroke="#9A9A9A" stroke-width="4.8"/>
<rect x="1988.66" y="4182.20" width="98.12" height="98.15" fill="#e58b42" stroke="#9A9A9A" stroke-width="4.8"/>
<rect x="2086.78" y="4182.20" width="98.12" height="98.15" fill="#f2b47a" stroke="#9A9A9A" stroke-width="4.8"/>
<rect x="2184.90" y="4182.20" width="98.12" height="98.15" fill="#e99a57" stroke="#9A9A9A" stroke-width="4.8"/>
<text x="2301.23" y="4256.80" font-size="65.45" fill="#000">Delphinidin−3−O−rutinoside−7−O−glucoside</text>
<rect x="1608.90" y="4280.35" width="65.20" height="98.15" fill="#FDB462" stroke="#9A9A9A" stroke-width="4.8"/>
<rect x="1694.30" y="4280.35" width="98.12" height="98.15" fill="#f9cd98" stroke="#9A9A9A" stroke-width="4.8"/>
<rect x="1792.42" y="4280.35" width="98.12" height="98.15" fill="#f9cd98" stroke="#9A9A9A" stroke-width="4.8"/>
<rect x="1890.54" y="4280.35" width="98.12" height="98.15" fill="#da5f10" stroke="#9A9A9A" stroke-width="4.8"/>
<rect x="1988.66" y="4280.35" width="98.12" height="98.15" fill="#fddcaa" stroke="#9A9A9A" stroke-width="4.8"/>
<rect x="2086.78" y="4280.35" width="98.12" height="98.15" fill="#f9cd98" stroke="#9A9A9A" stroke-width="4.8"/>
<rect x="2184.90" y="4280.35" width="98.12" height="98.15" fill="#fcd9a6" stroke="#9A9A9A" stroke-width="4.8"/>
<text x="2301.23" y="4355.05" font-size="65.45" fill="#000">Epigallocatechin−3−gallate*</text>
<rect x="1608.90" y="4378.50" width="65.20" height="98.15" fill="#FDB462" stroke="#9A9A9A" stroke-width="4.8"/>
<rect x="1694.30" y="4378.50" width="98.12" height="98.15" fill="#fddcaa" stroke="#9A9A9A" stroke-width="4.8"/>
<rect x="1792.42" y="4378.50" width="98.12" height="98.15" fill="#f8c893" stroke="#9A9A9A" stroke-width="4.8"/>
<rect x="1890.54" y="4378.50" width="98.12" height="98.15" fill="#da5f10" stroke="#9A9A9A" stroke-width="4.8"/>
<rect x="1988.66" y="4378.50" width="98.12" height="98.15" fill="#fddcaa" stroke="#9A9A9A" stroke-width="4.8"/>
<rect x="2086.78" y="4378.50" width="98.12" height="98.15" fill="#f0ac70" stroke="#9A9A9A" stroke-width="4.8"/>
<rect x="2184.90" y="4378.50" width="98.12" height="98.15" fill="#f0ac70" stroke="#9A9A9A" stroke-width="4.8"/>
<text x="2303.31" y="4453.30" font-size="65.45" fill="#000">Gallate catechin gallate*</text>
<rect x="1608.90" y="4476.65" width="65.20" height="98.15" fill="#FDB462" stroke="#9A9A9A" stroke-width="4.8"/>
<rect x="1694.30" y="4476.65" width="98.12" height="98.15" fill="#da5f10" stroke="#9A9A9A" stroke-width="4.8"/>
<rect x="1792.42" y="4476.65" width="98.12" height="98.15" fill="#f8c893" stroke="#9A9A9A" stroke-width="4.8"/>
<rect x="1890.54" y="4476.65" width="98.12" height="98.15" fill="#f4ba81" stroke="#9A9A9A" stroke-width="4.8"/>
<rect x="1988.66" y="4476.65" width="98.12" height="98.15" fill="#f4ba81" stroke="#9A9A9A" stroke-width="4.8"/>
<rect x="2086.78" y="4476.65" width="98.12" height="98.15" fill="#fddcaa" stroke="#9A9A9A" stroke-width="4.8"/>
<rect x="2184.90" y="4476.65" width="98.12" height="98.15" fill="#fddcaa" stroke="#9A9A9A" stroke-width="4.8"/>
<text x="2301.23" y="4551.55" font-size="65.45" fill="#000">Epicatechin*</text>
<rect x="1608.90" y="4574.80" width="65.20" height="98.15" fill="#FDB462" stroke="#9A9A9A" stroke-width="4.8"/>
<rect x="1694.30" y="4574.80" width="98.12" height="98.15" fill="#da5f10" stroke="#9A9A9A" stroke-width="4.8"/>
<rect x="1792.42" y="4574.80" width="98.12" height="98.15" fill="#e27c33" stroke="#9A9A9A" stroke-width="4.8"/>
<rect x="1890.54" y="4574.80" width="98.12" height="98.15" fill="#e0742a" stroke="#9A9A9A" stroke-width="4.8"/>
<rect x="1988.66" y="4574.80" width="98.12" height="98.15" fill="#da5f10" stroke="#9A9A9A" stroke-width="4.8"/>
<rect x="2086.78" y="4574.80" width="98.12" height="98.15" fill="#fddcaa" stroke="#9A9A9A" stroke-width="4.8"/>
<rect x="2184.90" y="4574.80" width="98.12" height="98.15" fill="#f8c893" stroke="#9A9A9A" stroke-width="4.8"/>
<text x="2303.28" y="4649.80" font-size="65.45" fill="#000">Catechin*</text>
<rect x="1608.90" y="4672.95" width="65.20" height="98.15" fill="#FDB462" stroke="#9A9A9A" stroke-width="4.8"/>
<rect x="1694.30" y="4672.95" width="98.12" height="98.15" fill="#fddcaa" stroke="#9A9A9A" stroke-width="4.8"/>
<rect x="1792.42" y="4672.95" width="98.12" height="98.15" fill="#f9cd98" stroke="#9A9A9A" stroke-width="4.8"/>
<rect x="1890.54" y="4672.95" width="98.12" height="98.15" fill="#e7924c" stroke="#9A9A9A" stroke-width="4.8"/>
<rect x="1988.66" y="4672.95" width="98.12" height="98.15" fill="#fddcaa" stroke="#9A9A9A" stroke-width="4.8"/>
<rect x="2086.78" y="4672.95" width="98.12" height="98.15" fill="#eda466" stroke="#9A9A9A" stroke-width="4.8"/>
<rect x="2184.90" y="4672.95" width="98.12" height="98.15" fill="#da5f10" stroke="#9A9A9A" stroke-width="4.8"/>
<text x="2303.31" y="4748.05" font-size="65.45" fill="#000">Gallocatechin−Gallocatechin</text>
<rect x="1556.4" y="2415.5" width="2196.6" height="98.2" fill="none" stroke="#BC80BD" stroke-width="6.5"/>
<rect x="1556.4" y="2906.2" width="2196.6" height="98.2" fill="none" stroke="#FFED6F" stroke-width="6.5"/>
<rect x="1556.4" y="3102.6" width="2196.6" height="883.3" fill="none" stroke="#E78AC3" stroke-width="6.5"/>
<text x="1484.47" y="4848.70" font-size="65.50" fill="#000">Compound</text>
<rect x="146.50" y="4205.50" width="94.10" height="94.50" fill="#E78AC3" stroke="#9A9A9A" stroke-width="4.4"/>
<rect x="240.60" y="4205.50" width="94.10" height="94.50" fill="#8DA0CB" stroke="#9A9A9A" stroke-width="4.4"/>
<rect x="334.70" y="4205.50" width="94.10" height="94.50" fill="#FC8D62" stroke="#9A9A9A" stroke-width="4.4"/>
<rect x="428.80" y="4205.50" width="94.10" height="94.50" fill="#66C2A5" stroke="#9A9A9A" stroke-width="4.4"/>
<rect x="522.90" y="4205.50" width="94.10" height="94.50" fill="#FFED6F" stroke="#9A9A9A" stroke-width="4.4"/>
<rect x="617.00" y="4205.50" width="94.10" height="94.50" fill="#CCEBC5" stroke="#9A9A9A" stroke-width="4.4"/>
<rect x="711.10" y="4205.50" width="94.10" height="94.50" fill="#BC80BD" stroke="#9A9A9A" stroke-width="4.4"/>
<rect x="805.20" y="4205.50" width="94.10" height="94.50" fill="#D9D9D9" stroke="#9A9A9A" stroke-width="4.4"/>
<rect x="899.30" y="4205.50" width="94.10" height="94.50" fill="#FCCDE5" stroke="#9A9A9A" stroke-width="4.4"/>
<rect x="993.40" y="4205.50" width="94.10" height="94.50" fill="#B3DE69" stroke="#9A9A9A" stroke-width="4.4"/>
<text transform="translate(186.6,4316) rotate(-30)" x="0" y="0" font-size="52" text-anchor="end" dy="46">UFGT</text>
<text transform="translate(280.6,4311) rotate(-30)" x="0" y="0" font-size="52" text-anchor="end" dy="46">ANR</text>
<text transform="translate(374.8,4311) rotate(-30)" x="0" y="0" font-size="52" text-anchor="end" dy="46">ANS</text>
<text transform="translate(475.8,4311) rotate(-30)" x="0" y="0" font-size="52" text-anchor="end" dy="46">DFR</text>
<text transform="translate(570.0,4311) rotate(-30)" x="0" y="0" font-size="52" text-anchor="end" dy="46">F3H</text>
<text transform="translate(664.0,4311) rotate(-30)" x="0" y="0" font-size="52" text-anchor="end" dy="46">CHI</text>
<text transform="translate(758.1,4311) rotate(-30)" x="0" y="0" font-size="52" text-anchor="end" dy="46">CHS</text>
<text transform="translate(852.2,4311) rotate(-30)" x="0" y="0" font-size="52" text-anchor="end" dy="46">4CL</text>
<text transform="translate(946.3,4311) rotate(-30)" x="0" y="0" font-size="52" text-anchor="end" dy="46">C4H</text>
<text transform="translate(1040.4,4311) rotate(-30)" x="0" y="0" font-size="52" text-anchor="end" dy="46">PAL</text>
<text x="1101.53" y="4275.60" font-size="65.50" fill="#000">Enzyme</text>
<rect x="338.30" y="4493.30" width="94.10" height="92.70" fill="#FDB462" stroke="#9A9A9A" stroke-width="4.4"/>
<rect x="432.40" y="4493.30" width="94.10" height="92.70" fill="#80B1D3" stroke="#9A9A9A" stroke-width="4.4"/>
<rect x="526.50" y="4493.30" width="94.10" height="92.70" fill="#FB8072" stroke="#9A9A9A" stroke-width="4.4"/>
<rect x="620.60" y="4493.30" width="94.10" height="92.70" fill="#BEBADA" stroke="#9A9A9A" stroke-width="4.4"/>
<rect x="714.70" y="4493.30" width="94.10" height="92.70" fill="#FFFFB3" stroke="#9A9A9A" stroke-width="4.4"/>
<rect x="808.80" y="4493.30" width="94.10" height="92.70" fill="#8DD3C7" stroke="#9A9A9A" stroke-width="4.4"/>
<text transform="translate(343.4,4595) rotate(-30)" x="0" y="0" font-size="52" text-anchor="end" dy="46">Flavan−3−ols</text>
<text transform="translate(452.4,4591) rotate(-30)" x="0" y="0" font-size="52" text-anchor="end" dy="46">Anthocyanins</text>
<text transform="translate(569.5,4589) rotate(-30)" x="0" y="0" font-size="52" text-anchor="end" dy="46">Anthocyanidins</text>
<text transform="translate(667.6,4593) rotate(-30)" x="0" y="0" font-size="52" text-anchor="end" dy="46">Dihydrokaempferol</text>
<text transform="translate(773.2,4591) rotate(-30)" x="0" y="0" font-size="52" text-anchor="end" dy="46">Naringenin</text>
<text transform="translate(878.8,4593) rotate(-30)" x="0" y="0" font-size="52" text-anchor="end" dy="46">Chalcone</text>
<text x="925.17" y="4554.80" font-size="65.50" fill="#000">Compound</text>
</svg>
</body></html>
